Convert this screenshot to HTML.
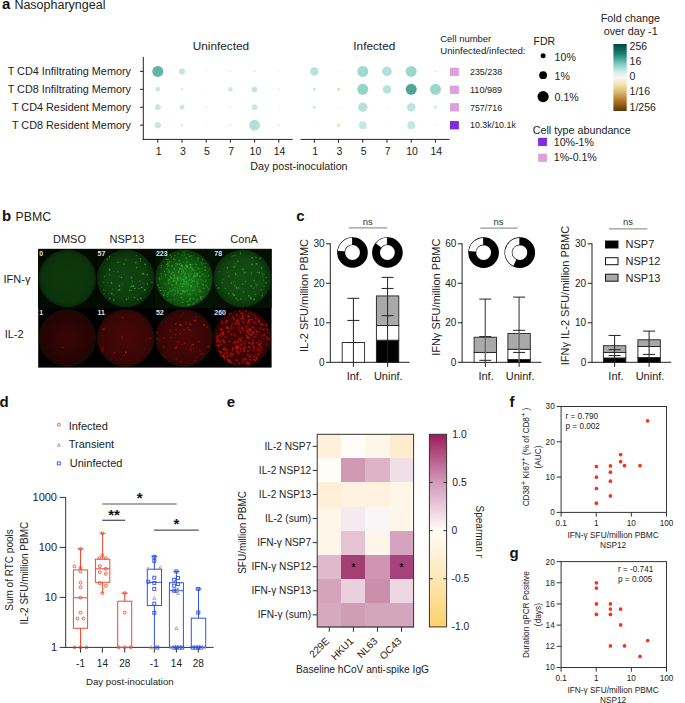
<!DOCTYPE html>
<html><head><meta charset="utf-8"><style>
html,body{margin:0;padding:0;background:#fff;}
svg{display:block;font-family:"Liberation Sans", sans-serif;}
</style></head><body>
<svg width="685" height="703" viewBox="0 0 685 703">
<rect width="685" height="703" fill="#fff"/>
<text x="1.90" y="9.30" font-size="15" text-anchor="start" font-weight="bold" fill="#111" >a</text>
<text x="14.40" y="9.40" font-size="12.5" text-anchor="start" fill="#222" >Nasopharyngeal</text>
<text x="220.90" y="49.60" font-size="11.8" text-anchor="middle" fill="#222" >Uninfected</text>
<text x="374.30" y="50.00" font-size="11.8" text-anchor="middle" fill="#222" >Infected</text>
<text x="131.00" y="75.20" font-size="10.85" text-anchor="end" fill="#222" >T CD4 Infiltrating Memory</text>
<line x1="140.00" y1="71.40" x2="143.30" y2="71.40" stroke="#222" stroke-width="1" />
<text x="131.00" y="93.15" font-size="10.85" text-anchor="end" fill="#222" >T CD8 Infiltrating Memory</text>
<line x1="140.00" y1="89.35" x2="143.30" y2="89.35" stroke="#222" stroke-width="1" />
<text x="131.00" y="111.05" font-size="10.85" text-anchor="end" fill="#222" >T CD4 Resident Memory</text>
<line x1="140.00" y1="107.25" x2="143.30" y2="107.25" stroke="#222" stroke-width="1" />
<text x="131.00" y="128.95" font-size="10.85" text-anchor="end" fill="#222" >T CD8 Resident Memory</text>
<line x1="140.00" y1="125.15" x2="143.30" y2="125.15" stroke="#222" stroke-width="1" />
<line x1="143.30" y1="57.00" x2="143.30" y2="139.90" stroke="#222" stroke-width="1" />
<line x1="142.80" y1="139.40" x2="292.70" y2="139.40" stroke="#222" stroke-width="1" />
<line x1="300.50" y1="139.40" x2="449.50" y2="139.40" stroke="#222" stroke-width="1" />
<line x1="157.80" y1="139.40" x2="157.80" y2="142.70" stroke="#222" stroke-width="1" />
<text x="158.60" y="155.00" font-size="10.5" text-anchor="middle" fill="#222" >1</text>
<line x1="182.00" y1="139.40" x2="182.00" y2="142.70" stroke="#222" stroke-width="1" />
<text x="182.80" y="155.00" font-size="10.5" text-anchor="middle" fill="#222" >3</text>
<line x1="206.20" y1="139.40" x2="206.20" y2="142.70" stroke="#222" stroke-width="1" />
<text x="207.00" y="155.00" font-size="10.5" text-anchor="middle" fill="#222" >5</text>
<line x1="230.40" y1="139.40" x2="230.40" y2="142.70" stroke="#222" stroke-width="1" />
<text x="231.20" y="155.00" font-size="10.5" text-anchor="middle" fill="#222" >7</text>
<line x1="254.60" y1="139.40" x2="254.60" y2="142.70" stroke="#222" stroke-width="1" />
<text x="255.40" y="155.00" font-size="10.5" text-anchor="middle" fill="#222" >10</text>
<line x1="278.80" y1="139.40" x2="278.80" y2="142.70" stroke="#222" stroke-width="1" />
<text x="279.60" y="155.00" font-size="10.5" text-anchor="middle" fill="#222" >14</text>
<line x1="314.30" y1="139.40" x2="314.30" y2="142.70" stroke="#222" stroke-width="1" />
<text x="315.10" y="155.00" font-size="10.5" text-anchor="middle" fill="#222" >1</text>
<line x1="338.53" y1="139.40" x2="338.53" y2="142.70" stroke="#222" stroke-width="1" />
<text x="339.33" y="155.00" font-size="10.5" text-anchor="middle" fill="#222" >3</text>
<line x1="362.76" y1="139.40" x2="362.76" y2="142.70" stroke="#222" stroke-width="1" />
<text x="363.56" y="155.00" font-size="10.5" text-anchor="middle" fill="#222" >5</text>
<line x1="386.99" y1="139.40" x2="386.99" y2="142.70" stroke="#222" stroke-width="1" />
<text x="387.79" y="155.00" font-size="10.5" text-anchor="middle" fill="#222" >7</text>
<line x1="411.22" y1="139.40" x2="411.22" y2="142.70" stroke="#222" stroke-width="1" />
<text x="412.02" y="155.00" font-size="10.5" text-anchor="middle" fill="#222" >10</text>
<line x1="435.45" y1="139.40" x2="435.45" y2="142.70" stroke="#222" stroke-width="1" />
<text x="436.25" y="155.00" font-size="10.5" text-anchor="middle" fill="#222" >14</text>
<text x="250.20" y="170.30" font-size="10.75" text-anchor="start" fill="#222" >Day post-inoculation</text>
<circle cx="157.80" cy="71.40" r="5.50" fill="#62b4a7" stroke="none" stroke-width="1" />
<circle cx="182.00" cy="71.40" r="3.00" fill="#c0e6df" stroke="none" stroke-width="1" />
<circle cx="206.20" cy="71.40" r="0.50" fill="#c5e8e1" stroke="none" stroke-width="1" />
<circle cx="230.40" cy="71.40" r="0.90" fill="#c5e8e1" stroke="none" stroke-width="1" />
<circle cx="254.60" cy="71.40" r="0.90" fill="#c5e8e1" stroke="none" stroke-width="1" />
<circle cx="278.80" cy="71.40" r="0.50" fill="#c5e8e1" stroke="none" stroke-width="1" />
<circle cx="157.80" cy="89.35" r="2.30" fill="#c6e8e2" stroke="none" stroke-width="1" />
<circle cx="182.00" cy="89.35" r="1.00" fill="#c5e8e1" stroke="none" stroke-width="1" />
<circle cx="206.20" cy="89.35" r="0.70" fill="#c5e8e1" stroke="none" stroke-width="1" />
<circle cx="230.40" cy="89.35" r="2.30" fill="#c6e8e2" stroke="none" stroke-width="1" />
<circle cx="254.60" cy="89.35" r="2.90" fill="#c0e6df" stroke="none" stroke-width="1" />
<circle cx="278.80" cy="89.35" r="0.80" fill="#c5e8e1" stroke="none" stroke-width="1" />
<circle cx="157.80" cy="107.25" r="2.90" fill="#c4e7e1" stroke="none" stroke-width="1" />
<circle cx="182.00" cy="107.25" r="2.40" fill="#c6e8e2" stroke="none" stroke-width="1" />
<circle cx="206.20" cy="107.25" r="0.80" fill="#c5e8e1" stroke="none" stroke-width="1" />
<circle cx="230.40" cy="107.25" r="0.80" fill="#c5e8e1" stroke="none" stroke-width="1" />
<circle cx="254.60" cy="107.25" r="2.90" fill="#c6e8e2" stroke="none" stroke-width="1" />
<circle cx="278.80" cy="107.25" r="0.60" fill="#c5e8e1" stroke="none" stroke-width="1" />
<circle cx="157.80" cy="125.15" r="3.10" fill="#c6e8e2" stroke="none" stroke-width="1" />
<circle cx="182.00" cy="125.15" r="1.00" fill="#c5e8e1" stroke="none" stroke-width="1" />
<circle cx="206.20" cy="125.15" r="0.50" fill="#c5e8e1" stroke="none" stroke-width="1" />
<circle cx="230.40" cy="125.15" r="0.90" fill="#c5e8e1" stroke="none" stroke-width="1" />
<circle cx="254.60" cy="125.15" r="5.40" fill="#b3e0d9" stroke="none" stroke-width="1" />
<circle cx="278.80" cy="125.15" r="0.80" fill="#c5e8e1" stroke="none" stroke-width="1" />
<circle cx="314.30" cy="71.40" r="4.10" fill="#b6e2da" stroke="none" stroke-width="1" />
<circle cx="338.53" cy="71.40" r="0.50" fill="#c5e8e1" stroke="none" stroke-width="1" />
<circle cx="362.76" cy="71.40" r="5.50" fill="#a0d9cf" stroke="none" stroke-width="1" />
<circle cx="386.99" cy="71.40" r="4.85" fill="#b3e0d8" stroke="none" stroke-width="1" />
<circle cx="411.22" cy="71.40" r="5.50" fill="#9dd7cc" stroke="none" stroke-width="1" />
<circle cx="435.45" cy="71.40" r="0.80" fill="#c5e8e1" stroke="none" stroke-width="1" />
<circle cx="314.30" cy="89.35" r="1.50" fill="#c8e9e3" stroke="none" stroke-width="1" />
<circle cx="338.53" cy="89.35" r="1.80" fill="#f3dfba" stroke="none" stroke-width="1" />
<circle cx="362.76" cy="89.35" r="5.50" fill="#96d3c8" stroke="none" stroke-width="1" />
<circle cx="386.99" cy="89.35" r="4.30" fill="#b8e3db" stroke="none" stroke-width="1" />
<circle cx="411.22" cy="89.35" r="5.50" fill="#4ea597" stroke="none" stroke-width="1" />
<circle cx="435.45" cy="89.35" r="5.50" fill="#9dd7cc" stroke="none" stroke-width="1" />
<circle cx="314.30" cy="107.25" r="1.50" fill="#c8e9e3" stroke="none" stroke-width="1" />
<circle cx="338.53" cy="107.25" r="0.60" fill="#c5e8e1" stroke="none" stroke-width="1" />
<circle cx="362.76" cy="107.25" r="4.70" fill="#b5e2da" stroke="none" stroke-width="1" />
<circle cx="386.99" cy="107.25" r="0.60" fill="#c5e8e1" stroke="none" stroke-width="1" />
<circle cx="411.22" cy="107.25" r="4.30" fill="#bde5de" stroke="none" stroke-width="1" />
<circle cx="435.45" cy="107.25" r="1.40" fill="#c5e8e1" stroke="none" stroke-width="1" />
<circle cx="314.30" cy="125.15" r="0.50" fill="#c5e8e1" stroke="none" stroke-width="1" />
<circle cx="338.53" cy="125.15" r="1.60" fill="#f3dfba" stroke="none" stroke-width="1" />
<circle cx="362.76" cy="125.15" r="3.90" fill="#c1e8e1" stroke="none" stroke-width="1" />
<circle cx="386.99" cy="125.15" r="0.50" fill="#c5e8e1" stroke="none" stroke-width="1" />
<circle cx="411.22" cy="125.15" r="3.90" fill="#c2e8e1" stroke="none" stroke-width="1" />
<circle cx="435.45" cy="125.15" r="0.60" fill="#c5e8e1" stroke="none" stroke-width="1" />
<text x="440.20" y="41.70" font-size="8.7" text-anchor="start" fill="#222" textLength="51.1" lengthAdjust="spacingAndGlyphs">Cell number</text>
<text x="440.20" y="54.00" font-size="8.7" text-anchor="start" fill="#222" textLength="85.3" lengthAdjust="spacingAndGlyphs">Uninfected/infected:</text>
<rect x="450.00" y="67.75" width="8.90" height="8.30" fill="#dda0dc" stroke="none" stroke-width="1" />
<text x="470.00" y="75.10" font-size="8.2" text-anchor="start" fill="#222" textLength="32.1" lengthAdjust="spacingAndGlyphs">235/238</text>
<rect x="450.00" y="85.65" width="8.90" height="8.30" fill="#dda0dc" stroke="none" stroke-width="1" />
<text x="470.00" y="93.00" font-size="8.2" text-anchor="start" fill="#222" textLength="32.1" lengthAdjust="spacingAndGlyphs">110/989</text>
<rect x="450.00" y="103.15" width="8.90" height="8.30" fill="#dda0dc" stroke="none" stroke-width="1" />
<text x="470.00" y="110.50" font-size="8.2" text-anchor="start" fill="#222" textLength="32.1" lengthAdjust="spacingAndGlyphs">757/716</text>
<rect x="450.00" y="121.05" width="8.90" height="8.30" fill="#7f2be0" stroke="none" stroke-width="1" />
<text x="470.00" y="128.40" font-size="8.2" text-anchor="start" fill="#222" textLength="45.9" lengthAdjust="spacingAndGlyphs">10.3k/10.1k</text>
<text x="533.60" y="44.80" font-size="10.5" text-anchor="start" fill="#222" >FDR</text>
<circle cx="543.10" cy="55.80" r="2.50" fill="#000" stroke="none" stroke-width="1" />
<text x="554.60" y="60.60" font-size="10.6" text-anchor="start" fill="#222" >10%</text>
<circle cx="543.10" cy="75.20" r="3.90" fill="#000" stroke="none" stroke-width="1" />
<text x="554.60" y="80.00" font-size="10.6" text-anchor="start" fill="#222" >1%</text>
<circle cx="543.10" cy="96.60" r="5.60" fill="#000" stroke="none" stroke-width="1" />
<text x="554.60" y="101.40" font-size="10.6" text-anchor="start" fill="#222" >0.1%</text>
<text x="630.40" y="22.20" font-size="10.8" text-anchor="middle" fill="#222" >Fold change</text>
<text x="630.70" y="35.00" font-size="10.8" text-anchor="middle" fill="#222" >over day -1</text>
<defs><linearGradient id="brbg" x1="0" y1="0" x2="0" y2="1"><stop offset="0" stop-color="#01463d"/><stop offset="0.15" stop-color="#1f7f74"/><stop offset="0.3" stop-color="#7fcbbf"/><stop offset="0.42" stop-color="#d5efeb"/><stop offset="0.5" stop-color="#f5f5f5"/><stop offset="0.58" stop-color="#f6e8c3"/><stop offset="0.7" stop-color="#dfc27d"/><stop offset="0.85" stop-color="#b27424"/><stop offset="1" stop-color="#5e3507"/></linearGradient></defs>
<rect x="613.40" y="44.00" width="13.30" height="67.00" fill="url(#brbg)" stroke="none" stroke-width="1" />
<text x="629.60" y="49.80" font-size="10.5" text-anchor="start" fill="#222" >256</text>
<text x="629.60" y="64.50" font-size="10.5" text-anchor="start" fill="#222" >16</text>
<text x="629.60" y="79.80" font-size="10.5" text-anchor="start" fill="#222" >0</text>
<text x="629.60" y="95.20" font-size="10.5" text-anchor="start" fill="#222" >1/16</text>
<text x="629.60" y="110.50" font-size="10.5" text-anchor="start" fill="#222" >1/256</text>
<text x="532.70" y="133.80" font-size="10.75" text-anchor="start" fill="#222" >Cell type abundance</text>
<rect x="538.10" y="137.80" width="8.80" height="8.20" fill="#7f2be0" stroke="none" stroke-width="1" />
<rect x="538.10" y="153.70" width="8.80" height="8.20" fill="#dda0dc" stroke="none" stroke-width="1" />
<text x="553.80" y="145.70" font-size="10.6" text-anchor="start" fill="#222" >10%-1%</text>
<text x="553.80" y="161.20" font-size="10.6" text-anchor="start" fill="#222" >1%-0.1%</text>
<text x="1.90" y="220.90" font-size="15" text-anchor="start" font-weight="bold" fill="#111" >b</text>
<text x="15.60" y="220.90" font-size="12.3" text-anchor="start" fill="#222" >PBMC</text>
<text x="69.50" y="243.40" font-size="11" text-anchor="middle" fill="#222" >DMSO</text>
<text x="126.90" y="243.40" font-size="11" text-anchor="middle" fill="#222" >NSP13</text>
<text x="185.50" y="243.40" font-size="11" text-anchor="middle" fill="#222" >FEC</text>
<text x="244.10" y="243.40" font-size="11" text-anchor="middle" fill="#222" >ConA</text>
<text x="3.50" y="283.40" font-size="11" text-anchor="start" fill="#222" >IFN-γ</text>
<text x="4.70" y="338.20" font-size="11" text-anchor="start" fill="#222" >IL-2</text>
<rect x="38.20" y="248.90" width="233.40" height="118.70" fill="#000" stroke="none" stroke-width="1" />
<defs><radialGradient id="g0" cx="0.5" cy="0.5" r="0.5"><stop offset="0" stop-color="#0d380d"/><stop offset="0.85" stop-color="#0c340c"/><stop offset="1" stop-color="#082608"/></radialGradient><radialGradient id="g1" cx="0.5" cy="0.5" r="0.5"><stop offset="0" stop-color="#114411"/><stop offset="0.7" stop-color="#0f3e0f"/><stop offset="1" stop-color="#092a09"/></radialGradient><radialGradient id="g2" cx="0.52" cy="0.55" r="0.5"><stop offset="0" stop-color="#1a7a1a"/><stop offset="0.5" stop-color="#146414"/><stop offset="0.85" stop-color="#0f4c0f"/><stop offset="1" stop-color="#0b380b"/></radialGradient><radialGradient id="g3" cx="0.5" cy="0.5" r="0.5"><stop offset="0" stop-color="#134e13"/><stop offset="0.7" stop-color="#114611"/><stop offset="1" stop-color="#0a300a"/></radialGradient><radialGradient id="r0" cx="0.5" cy="0.5" r="0.5"><stop offset="0" stop-color="#3a0505"/><stop offset="0.8" stop-color="#260404"/><stop offset="1" stop-color="#1a0a03"/></radialGradient><radialGradient id="r1" cx="0.5" cy="0.5" r="0.5"><stop offset="0" stop-color="#480707"/><stop offset="0.8" stop-color="#3a0606"/><stop offset="1" stop-color="#260a04"/></radialGradient><radialGradient id="r2" cx="0.5" cy="0.5" r="0.5"><stop offset="0" stop-color="#4a0707"/><stop offset="0.8" stop-color="#3a0606"/><stop offset="1" stop-color="#260a04"/></radialGradient><radialGradient id="r3" cx="0.5" cy="0.5" r="0.5"><stop offset="0" stop-color="#420404"/><stop offset="0.8" stop-color="#380303"/><stop offset="1" stop-color="#280303"/></radialGradient></defs>
<rect x="38.20" y="248.90" width="58.35" height="59.35" fill="#020a02" stroke="none" stroke-width="1" />
<circle cx="67.38" cy="278.57" r="28.70" fill="url(#g0)" stroke="none" stroke-width="1" />
<circle cx="67.38" cy="337.93" r="28.70" fill="url(#r0)" stroke="none" stroke-width="1" />
<circle cx="62.64" cy="347.40" r="0.86" fill="#d01212" stroke="none" stroke-width="1" opacity="0.48"/>
<text x="39.20" y="255.90" font-size="7" text-anchor="start" fill="#e0e0e0" font-weight="bold">0</text>
<text x="39.20" y="315.25" font-size="7" text-anchor="start" fill="#e0e0e0" font-weight="bold">1</text>
<rect x="96.55" y="248.90" width="58.35" height="59.35" fill="#020c02" stroke="none" stroke-width="1" />
<circle cx="125.73" cy="278.57" r="28.70" fill="url(#g1)" stroke="none" stroke-width="1" />
<circle cx="109.65" cy="274.89" r="0.52" fill="#3cc03c" stroke="none" stroke-width="1" opacity="0.65"/>
<circle cx="143.18" cy="282.77" r="0.53" fill="#3cc03c" stroke="none" stroke-width="1" opacity="0.49"/>
<circle cx="103.67" cy="289.90" r="0.55" fill="#3cc03c" stroke="none" stroke-width="1" opacity="0.54"/>
<circle cx="107.25" cy="259.52" r="0.73" fill="#3cc03c" stroke="none" stroke-width="1" opacity="0.61"/>
<circle cx="131.54" cy="277.70" r="0.84" fill="#3cc03c" stroke="none" stroke-width="1" opacity="0.57"/>
<circle cx="131.49" cy="285.94" r="0.62" fill="#3cc03c" stroke="none" stroke-width="1" opacity="0.78"/>
<circle cx="134.49" cy="297.43" r="0.76" fill="#3cc03c" stroke="none" stroke-width="1" opacity="0.60"/>
<circle cx="119.20" cy="276.56" r="0.52" fill="#3cc03c" stroke="none" stroke-width="1" opacity="0.53"/>
<circle cx="118.17" cy="262.42" r="0.63" fill="#3cc03c" stroke="none" stroke-width="1" opacity="0.68"/>
<circle cx="111.44" cy="282.90" r="0.82" fill="#3cc03c" stroke="none" stroke-width="1" opacity="0.73"/>
<circle cx="126.49" cy="299.23" r="0.71" fill="#3cc03c" stroke="none" stroke-width="1" opacity="0.80"/>
<circle cx="123.84" cy="264.07" r="0.89" fill="#3cc03c" stroke="none" stroke-width="1" opacity="0.50"/>
<circle cx="105.07" cy="290.25" r="0.56" fill="#3cc03c" stroke="none" stroke-width="1" opacity="0.65"/>
<circle cx="147.34" cy="284.01" r="0.81" fill="#3cc03c" stroke="none" stroke-width="1" opacity="0.68"/>
<circle cx="136.56" cy="267.81" r="0.78" fill="#3cc03c" stroke="none" stroke-width="1" opacity="0.69"/>
<circle cx="109.58" cy="269.71" r="0.84" fill="#3cc03c" stroke="none" stroke-width="1" opacity="0.83"/>
<circle cx="103.80" cy="282.18" r="0.52" fill="#3cc03c" stroke="none" stroke-width="1" opacity="0.73"/>
<circle cx="109.36" cy="256.89" r="0.83" fill="#3cc03c" stroke="none" stroke-width="1" opacity="0.56"/>
<circle cx="108.93" cy="293.24" r="0.51" fill="#3cc03c" stroke="none" stroke-width="1" opacity="0.63"/>
<circle cx="130.32" cy="286.70" r="0.52" fill="#3cc03c" stroke="none" stroke-width="1" opacity="0.76"/>
<circle cx="135.05" cy="288.43" r="0.66" fill="#3cc03c" stroke="none" stroke-width="1" opacity="0.80"/>
<circle cx="141.71" cy="287.44" r="0.72" fill="#3cc03c" stroke="none" stroke-width="1" opacity="0.80"/>
<circle cx="136.41" cy="255.60" r="0.61" fill="#3cc03c" stroke="none" stroke-width="1" opacity="0.62"/>
<circle cx="109.54" cy="298.45" r="0.88" fill="#3cc03c" stroke="none" stroke-width="1" opacity="0.51"/>
<circle cx="131.60" cy="290.32" r="0.59" fill="#3cc03c" stroke="none" stroke-width="1" opacity="0.64"/>
<circle cx="113.88" cy="271.15" r="0.50" fill="#3cc03c" stroke="none" stroke-width="1" opacity="0.62"/>
<circle cx="111.75" cy="293.60" r="0.88" fill="#3cc03c" stroke="none" stroke-width="1" opacity="0.73"/>
<circle cx="104.40" cy="276.49" r="0.77" fill="#3cc03c" stroke="none" stroke-width="1" opacity="0.47"/>
<circle cx="145.16" cy="264.36" r="0.85" fill="#3cc03c" stroke="none" stroke-width="1" opacity="0.77"/>
<circle cx="112.29" cy="289.35" r="0.54" fill="#3cc03c" stroke="none" stroke-width="1" opacity="0.70"/>
<circle cx="132.27" cy="281.27" r="0.58" fill="#3cc03c" stroke="none" stroke-width="1" opacity="0.51"/>
<circle cx="122.37" cy="283.85" r="0.50" fill="#3cc03c" stroke="none" stroke-width="1" opacity="0.51"/>
<circle cx="138.94" cy="288.36" r="0.51" fill="#3cc03c" stroke="none" stroke-width="1" opacity="0.80"/>
<circle cx="117.80" cy="271.67" r="0.60" fill="#3cc03c" stroke="none" stroke-width="1" opacity="0.59"/>
<circle cx="119.44" cy="285.78" r="0.84" fill="#3cc03c" stroke="none" stroke-width="1" opacity="0.85"/>
<circle cx="107.19" cy="282.60" r="0.53" fill="#3cc03c" stroke="none" stroke-width="1" opacity="0.49"/>
<circle cx="118.01" cy="290.29" r="0.83" fill="#3cc03c" stroke="none" stroke-width="1" opacity="0.51"/>
<circle cx="152.03" cy="282.42" r="0.71" fill="#3cc03c" stroke="none" stroke-width="1" opacity="0.51"/>
<circle cx="121.41" cy="277.37" r="0.71" fill="#3cc03c" stroke="none" stroke-width="1" opacity="0.84"/>
<circle cx="140.59" cy="261.35" r="0.60" fill="#3cc03c" stroke="none" stroke-width="1" opacity="0.60"/>
<circle cx="137.65" cy="299.35" r="0.71" fill="#3cc03c" stroke="none" stroke-width="1" opacity="0.76"/>
<circle cx="119.55" cy="289.87" r="0.82" fill="#3cc03c" stroke="none" stroke-width="1" opacity="0.84"/>
<circle cx="140.44" cy="259.01" r="0.83" fill="#3cc03c" stroke="none" stroke-width="1" opacity="0.75"/>
<circle cx="128.58" cy="297.98" r="0.64" fill="#3cc03c" stroke="none" stroke-width="1" opacity="0.46"/>
<circle cx="139.92" cy="281.09" r="0.60" fill="#3cc03c" stroke="none" stroke-width="1" opacity="0.73"/>
<circle cx="143.28" cy="273.65" r="0.87" fill="#3cc03c" stroke="none" stroke-width="1" opacity="0.85"/>
<circle cx="141.54" cy="273.98" r="0.59" fill="#3cc03c" stroke="none" stroke-width="1" opacity="0.54"/>
<circle cx="129.78" cy="290.22" r="0.75" fill="#3cc03c" stroke="none" stroke-width="1" opacity="0.81"/>
<circle cx="135.88" cy="262.66" r="0.76" fill="#3cc03c" stroke="none" stroke-width="1" opacity="0.77"/>
<circle cx="144.81" cy="289.83" r="0.86" fill="#3cc03c" stroke="none" stroke-width="1" opacity="0.76"/>
<circle cx="125.74" cy="259.72" r="0.57" fill="#3cc03c" stroke="none" stroke-width="1" opacity="0.77"/>
<circle cx="113.63" cy="299.77" r="0.89" fill="#3cc03c" stroke="none" stroke-width="1" opacity="0.61"/>
<circle cx="104.13" cy="293.98" r="0.79" fill="#3cc03c" stroke="none" stroke-width="1" opacity="0.52"/>
<circle cx="133.12" cy="286.17" r="0.86" fill="#3cc03c" stroke="none" stroke-width="1" opacity="0.77"/>
<circle cx="140.77" cy="298.27" r="0.89" fill="#3cc03c" stroke="none" stroke-width="1" opacity="0.71"/>
<circle cx="113.81" cy="294.88" r="0.55" fill="#3cc03c" stroke="none" stroke-width="1" opacity="0.46"/>
<circle cx="147.33" cy="274.58" r="0.71" fill="#3cc03c" stroke="none" stroke-width="1" opacity="0.82"/>
<circle cx="125.73" cy="337.93" r="28.70" fill="url(#r1)" stroke="none" stroke-width="1" />
<circle cx="102.44" cy="348.21" r="0.93" fill="#d01212" stroke="none" stroke-width="1" opacity="0.54"/>
<circle cx="125.55" cy="352.68" r="0.70" fill="#d01212" stroke="none" stroke-width="1" opacity="0.71"/>
<circle cx="124.69" cy="355.54" r="0.65" fill="#d01212" stroke="none" stroke-width="1" opacity="0.86"/>
<circle cx="114.53" cy="352.59" r="0.83" fill="#d01212" stroke="none" stroke-width="1" opacity="0.86"/>
<circle cx="102.79" cy="350.42" r="0.80" fill="#d01212" stroke="none" stroke-width="1" opacity="0.69"/>
<circle cx="122.04" cy="337.38" r="0.78" fill="#d01212" stroke="none" stroke-width="1" opacity="0.53"/>
<circle cx="150.09" cy="338.53" r="0.67" fill="#d01212" stroke="none" stroke-width="1" opacity="0.66"/>
<circle cx="122.57" cy="317.83" r="0.73" fill="#d01212" stroke="none" stroke-width="1" opacity="0.68"/>
<circle cx="103.03" cy="329.68" r="0.64" fill="#d01212" stroke="none" stroke-width="1" opacity="0.70"/>
<circle cx="125.86" cy="352.27" r="0.91" fill="#d01212" stroke="none" stroke-width="1" opacity="0.68"/>
<circle cx="103.72" cy="328.94" r="0.96" fill="#d01212" stroke="none" stroke-width="1" opacity="0.65"/>
<text x="97.55" y="255.90" font-size="7" text-anchor="start" fill="#e0e0e0" font-weight="bold">57</text>
<text x="97.55" y="315.25" font-size="7" text-anchor="start" fill="#e0e0e0" font-weight="bold">11</text>
<rect x="154.90" y="248.90" width="58.35" height="59.35" fill="#041204" stroke="none" stroke-width="1" />
<circle cx="184.08" cy="278.57" r="28.70" fill="url(#g2)" stroke="none" stroke-width="1" />
<circle cx="169.34" cy="265.98" r="0.74" fill="#40b840" stroke="none" stroke-width="1" opacity="0.48"/>
<circle cx="165.63" cy="274.66" r="0.74" fill="#40b840" stroke="none" stroke-width="1" opacity="0.65"/>
<circle cx="197.06" cy="273.64" r="0.83" fill="#40b840" stroke="none" stroke-width="1" opacity="0.64"/>
<circle cx="190.27" cy="285.79" r="0.53" fill="#40b840" stroke="none" stroke-width="1" opacity="0.40"/>
<circle cx="204.07" cy="288.47" r="0.81" fill="#40b840" stroke="none" stroke-width="1" opacity="0.36"/>
<circle cx="181.27" cy="265.58" r="0.81" fill="#40b840" stroke="none" stroke-width="1" opacity="0.69"/>
<circle cx="189.13" cy="304.70" r="0.67" fill="#40b840" stroke="none" stroke-width="1" opacity="0.70"/>
<circle cx="189.50" cy="269.06" r="0.68" fill="#40b840" stroke="none" stroke-width="1" opacity="0.44"/>
<circle cx="189.22" cy="293.08" r="0.51" fill="#40b840" stroke="none" stroke-width="1" opacity="0.52"/>
<circle cx="182.03" cy="279.38" r="0.72" fill="#40b840" stroke="none" stroke-width="1" opacity="0.50"/>
<circle cx="208.96" cy="289.21" r="0.84" fill="#40b840" stroke="none" stroke-width="1" opacity="0.34"/>
<circle cx="183.55" cy="283.97" r="0.59" fill="#40b840" stroke="none" stroke-width="1" opacity="0.35"/>
<circle cx="161.09" cy="290.79" r="0.59" fill="#40b840" stroke="none" stroke-width="1" opacity="0.36"/>
<circle cx="202.07" cy="268.56" r="0.53" fill="#40b840" stroke="none" stroke-width="1" opacity="0.32"/>
<circle cx="180.04" cy="268.70" r="0.83" fill="#40b840" stroke="none" stroke-width="1" opacity="0.55"/>
<circle cx="186.59" cy="271.10" r="0.52" fill="#40b840" stroke="none" stroke-width="1" opacity="0.65"/>
<circle cx="168.86" cy="283.12" r="0.82" fill="#40b840" stroke="none" stroke-width="1" opacity="0.41"/>
<circle cx="192.25" cy="287.19" r="0.54" fill="#40b840" stroke="none" stroke-width="1" opacity="0.36"/>
<circle cx="191.06" cy="280.86" r="0.61" fill="#40b840" stroke="none" stroke-width="1" opacity="0.60"/>
<circle cx="181.20" cy="289.78" r="0.62" fill="#40b840" stroke="none" stroke-width="1" opacity="0.31"/>
<circle cx="184.07" cy="281.95" r="0.69" fill="#40b840" stroke="none" stroke-width="1" opacity="0.38"/>
<circle cx="168.46" cy="281.07" r="0.79" fill="#40b840" stroke="none" stroke-width="1" opacity="0.47"/>
<circle cx="159.18" cy="279.36" r="0.68" fill="#40b840" stroke="none" stroke-width="1" opacity="0.58"/>
<circle cx="199.94" cy="276.82" r="0.75" fill="#40b840" stroke="none" stroke-width="1" opacity="0.55"/>
<circle cx="176.11" cy="284.01" r="0.55" fill="#40b840" stroke="none" stroke-width="1" opacity="0.33"/>
<circle cx="183.60" cy="270.32" r="0.53" fill="#40b840" stroke="none" stroke-width="1" opacity="0.64"/>
<circle cx="193.28" cy="268.84" r="0.58" fill="#40b840" stroke="none" stroke-width="1" opacity="0.42"/>
<circle cx="173.60" cy="281.30" r="0.59" fill="#40b840" stroke="none" stroke-width="1" opacity="0.68"/>
<circle cx="196.00" cy="276.50" r="0.84" fill="#40b840" stroke="none" stroke-width="1" opacity="0.42"/>
<circle cx="183.52" cy="279.27" r="0.67" fill="#40b840" stroke="none" stroke-width="1" opacity="0.50"/>
<circle cx="187.60" cy="289.65" r="0.59" fill="#40b840" stroke="none" stroke-width="1" opacity="0.34"/>
<circle cx="181.38" cy="280.55" r="0.61" fill="#40b840" stroke="none" stroke-width="1" opacity="0.39"/>
<circle cx="167.04" cy="268.42" r="0.73" fill="#40b840" stroke="none" stroke-width="1" opacity="0.59"/>
<circle cx="191.48" cy="271.54" r="0.84" fill="#40b840" stroke="none" stroke-width="1" opacity="0.36"/>
<circle cx="181.95" cy="265.63" r="0.79" fill="#40b840" stroke="none" stroke-width="1" opacity="0.66"/>
<circle cx="167.80" cy="261.82" r="0.55" fill="#40b840" stroke="none" stroke-width="1" opacity="0.51"/>
<circle cx="159.17" cy="277.89" r="0.79" fill="#40b840" stroke="none" stroke-width="1" opacity="0.53"/>
<circle cx="201.69" cy="264.52" r="0.58" fill="#40b840" stroke="none" stroke-width="1" opacity="0.31"/>
<circle cx="190.66" cy="285.87" r="0.79" fill="#40b840" stroke="none" stroke-width="1" opacity="0.52"/>
<circle cx="169.09" cy="263.06" r="0.67" fill="#40b840" stroke="none" stroke-width="1" opacity="0.30"/>
<circle cx="191.04" cy="256.04" r="0.69" fill="#40b840" stroke="none" stroke-width="1" opacity="0.56"/>
<circle cx="196.93" cy="284.24" r="0.53" fill="#40b840" stroke="none" stroke-width="1" opacity="0.41"/>
<circle cx="182.48" cy="266.33" r="0.84" fill="#40b840" stroke="none" stroke-width="1" opacity="0.50"/>
<circle cx="170.11" cy="291.27" r="0.77" fill="#40b840" stroke="none" stroke-width="1" opacity="0.55"/>
<circle cx="181.23" cy="275.02" r="0.59" fill="#40b840" stroke="none" stroke-width="1" opacity="0.60"/>
<circle cx="179.94" cy="290.19" r="0.52" fill="#40b840" stroke="none" stroke-width="1" opacity="0.41"/>
<circle cx="173.40" cy="258.56" r="0.60" fill="#40b840" stroke="none" stroke-width="1" opacity="0.51"/>
<circle cx="173.18" cy="281.04" r="0.81" fill="#40b840" stroke="none" stroke-width="1" opacity="0.38"/>
<circle cx="199.75" cy="276.41" r="0.66" fill="#40b840" stroke="none" stroke-width="1" opacity="0.63"/>
<circle cx="194.82" cy="276.39" r="0.57" fill="#40b840" stroke="none" stroke-width="1" opacity="0.68"/>
<circle cx="187.12" cy="290.67" r="0.68" fill="#40b840" stroke="none" stroke-width="1" opacity="0.68"/>
<circle cx="200.68" cy="296.85" r="0.81" fill="#40b840" stroke="none" stroke-width="1" opacity="0.58"/>
<circle cx="187.09" cy="304.23" r="0.51" fill="#40b840" stroke="none" stroke-width="1" opacity="0.30"/>
<circle cx="173.11" cy="279.15" r="0.55" fill="#40b840" stroke="none" stroke-width="1" opacity="0.44"/>
<circle cx="178.03" cy="292.30" r="0.76" fill="#40b840" stroke="none" stroke-width="1" opacity="0.64"/>
<circle cx="203.20" cy="296.54" r="0.82" fill="#40b840" stroke="none" stroke-width="1" opacity="0.42"/>
<circle cx="172.20" cy="290.87" r="0.71" fill="#40b840" stroke="none" stroke-width="1" opacity="0.44"/>
<circle cx="176.36" cy="282.32" r="0.54" fill="#40b840" stroke="none" stroke-width="1" opacity="0.63"/>
<circle cx="180.56" cy="294.00" r="0.59" fill="#40b840" stroke="none" stroke-width="1" opacity="0.50"/>
<circle cx="190.22" cy="294.06" r="0.81" fill="#40b840" stroke="none" stroke-width="1" opacity="0.62"/>
<circle cx="166.34" cy="259.48" r="0.69" fill="#40b840" stroke="none" stroke-width="1" opacity="0.59"/>
<circle cx="206.29" cy="285.71" r="0.76" fill="#40b840" stroke="none" stroke-width="1" opacity="0.56"/>
<circle cx="182.71" cy="284.45" r="0.54" fill="#40b840" stroke="none" stroke-width="1" opacity="0.49"/>
<circle cx="175.82" cy="290.95" r="0.84" fill="#40b840" stroke="none" stroke-width="1" opacity="0.40"/>
<circle cx="175.75" cy="266.15" r="0.64" fill="#40b840" stroke="none" stroke-width="1" opacity="0.37"/>
<circle cx="190.63" cy="289.14" r="0.67" fill="#40b840" stroke="none" stroke-width="1" opacity="0.39"/>
<circle cx="206.71" cy="263.46" r="0.55" fill="#40b840" stroke="none" stroke-width="1" opacity="0.38"/>
<circle cx="192.13" cy="283.74" r="0.58" fill="#40b840" stroke="none" stroke-width="1" opacity="0.40"/>
<circle cx="160.81" cy="267.70" r="0.64" fill="#40b840" stroke="none" stroke-width="1" opacity="0.47"/>
<circle cx="174.15" cy="277.06" r="0.52" fill="#40b840" stroke="none" stroke-width="1" opacity="0.41"/>
<circle cx="193.55" cy="276.62" r="0.72" fill="#40b840" stroke="none" stroke-width="1" opacity="0.65"/>
<circle cx="185.88" cy="286.90" r="0.64" fill="#40b840" stroke="none" stroke-width="1" opacity="0.48"/>
<circle cx="208.15" cy="271.41" r="0.51" fill="#40b840" stroke="none" stroke-width="1" opacity="0.31"/>
<circle cx="177.58" cy="253.60" r="0.71" fill="#40b840" stroke="none" stroke-width="1" opacity="0.30"/>
<circle cx="163.69" cy="295.11" r="0.80" fill="#40b840" stroke="none" stroke-width="1" opacity="0.69"/>
<circle cx="184.13" cy="283.98" r="0.68" fill="#40b840" stroke="none" stroke-width="1" opacity="0.57"/>
<circle cx="205.69" cy="270.25" r="0.77" fill="#40b840" stroke="none" stroke-width="1" opacity="0.48"/>
<circle cx="178.93" cy="276.85" r="0.58" fill="#40b840" stroke="none" stroke-width="1" opacity="0.67"/>
<circle cx="178.57" cy="271.43" r="0.59" fill="#40b840" stroke="none" stroke-width="1" opacity="0.55"/>
<circle cx="182.34" cy="273.38" r="0.68" fill="#40b840" stroke="none" stroke-width="1" opacity="0.53"/>
<circle cx="174.24" cy="286.91" r="0.50" fill="#40b840" stroke="none" stroke-width="1" opacity="0.42"/>
<circle cx="158.19" cy="285.10" r="0.81" fill="#40b840" stroke="none" stroke-width="1" opacity="0.49"/>
<circle cx="185.37" cy="292.07" r="0.75" fill="#40b840" stroke="none" stroke-width="1" opacity="0.42"/>
<circle cx="203.14" cy="281.20" r="0.65" fill="#40b840" stroke="none" stroke-width="1" opacity="0.40"/>
<circle cx="176.27" cy="264.91" r="0.51" fill="#40b840" stroke="none" stroke-width="1" opacity="0.44"/>
<circle cx="172.21" cy="285.04" r="0.78" fill="#40b840" stroke="none" stroke-width="1" opacity="0.60"/>
<circle cx="171.73" cy="278.20" r="0.61" fill="#40b840" stroke="none" stroke-width="1" opacity="0.63"/>
<circle cx="185.62" cy="291.31" r="0.60" fill="#40b840" stroke="none" stroke-width="1" opacity="0.68"/>
<circle cx="177.00" cy="278.76" r="0.65" fill="#40b840" stroke="none" stroke-width="1" opacity="0.57"/>
<circle cx="193.97" cy="275.27" r="0.57" fill="#40b840" stroke="none" stroke-width="1" opacity="0.69"/>
<circle cx="186.41" cy="281.47" r="0.64" fill="#40b840" stroke="none" stroke-width="1" opacity="0.66"/>
<circle cx="201.44" cy="262.99" r="0.83" fill="#40b840" stroke="none" stroke-width="1" opacity="0.43"/>
<circle cx="194.47" cy="302.82" r="0.51" fill="#40b840" stroke="none" stroke-width="1" opacity="0.57"/>
<circle cx="176.84" cy="285.49" r="0.56" fill="#40b840" stroke="none" stroke-width="1" opacity="0.30"/>
<circle cx="181.07" cy="294.46" r="0.54" fill="#40b840" stroke="none" stroke-width="1" opacity="0.69"/>
<circle cx="188.38" cy="294.28" r="0.79" fill="#40b840" stroke="none" stroke-width="1" opacity="0.47"/>
<circle cx="201.94" cy="284.29" r="0.82" fill="#40b840" stroke="none" stroke-width="1" opacity="0.38"/>
<circle cx="173.88" cy="290.25" r="0.64" fill="#40b840" stroke="none" stroke-width="1" opacity="0.62"/>
<circle cx="184.42" cy="275.29" r="0.52" fill="#40b840" stroke="none" stroke-width="1" opacity="0.67"/>
<circle cx="183.04" cy="302.12" r="0.62" fill="#40b840" stroke="none" stroke-width="1" opacity="0.41"/>
<circle cx="196.47" cy="275.20" r="0.75" fill="#40b840" stroke="none" stroke-width="1" opacity="0.43"/>
<circle cx="183.81" cy="280.23" r="0.82" fill="#40b840" stroke="none" stroke-width="1" opacity="0.55"/>
<circle cx="186.46" cy="277.69" r="0.67" fill="#40b840" stroke="none" stroke-width="1" opacity="0.68"/>
<circle cx="193.82" cy="275.67" r="0.65" fill="#40b840" stroke="none" stroke-width="1" opacity="0.50"/>
<circle cx="194.57" cy="273.48" r="0.76" fill="#40b840" stroke="none" stroke-width="1" opacity="0.63"/>
<circle cx="185.90" cy="265.96" r="0.61" fill="#40b840" stroke="none" stroke-width="1" opacity="0.44"/>
<circle cx="185.00" cy="274.07" r="0.76" fill="#40b840" stroke="none" stroke-width="1" opacity="0.40"/>
<circle cx="188.68" cy="280.56" r="0.61" fill="#40b840" stroke="none" stroke-width="1" opacity="0.69"/>
<circle cx="196.17" cy="267.71" r="0.53" fill="#40b840" stroke="none" stroke-width="1" opacity="0.34"/>
<circle cx="161.11" cy="278.80" r="0.58" fill="#40b840" stroke="none" stroke-width="1" opacity="0.47"/>
<circle cx="167.79" cy="263.22" r="0.80" fill="#40b840" stroke="none" stroke-width="1" opacity="0.57"/>
<circle cx="194.93" cy="288.92" r="0.70" fill="#40b840" stroke="none" stroke-width="1" opacity="0.45"/>
<circle cx="183.53" cy="271.29" r="0.59" fill="#40b840" stroke="none" stroke-width="1" opacity="0.36"/>
<circle cx="193.36" cy="270.30" r="0.64" fill="#40b840" stroke="none" stroke-width="1" opacity="0.70"/>
<circle cx="170.97" cy="277.97" r="0.73" fill="#40b840" stroke="none" stroke-width="1" opacity="0.70"/>
<circle cx="199.11" cy="289.84" r="0.79" fill="#40b840" stroke="none" stroke-width="1" opacity="0.67"/>
<circle cx="192.66" cy="280.80" r="0.57" fill="#40b840" stroke="none" stroke-width="1" opacity="0.69"/>
<circle cx="161.29" cy="265.45" r="0.80" fill="#40b840" stroke="none" stroke-width="1" opacity="0.48"/>
<circle cx="182.57" cy="302.57" r="0.54" fill="#40b840" stroke="none" stroke-width="1" opacity="0.54"/>
<circle cx="174.80" cy="269.87" r="0.55" fill="#40b840" stroke="none" stroke-width="1" opacity="0.38"/>
<circle cx="183.42" cy="299.67" r="0.57" fill="#40b840" stroke="none" stroke-width="1" opacity="0.30"/>
<circle cx="177.79" cy="290.49" r="0.61" fill="#40b840" stroke="none" stroke-width="1" opacity="0.38"/>
<circle cx="187.47" cy="266.95" r="0.54" fill="#40b840" stroke="none" stroke-width="1" opacity="0.46"/>
<circle cx="171.64" cy="274.52" r="0.56" fill="#40b840" stroke="none" stroke-width="1" opacity="0.58"/>
<circle cx="176.73" cy="283.25" r="0.83" fill="#40b840" stroke="none" stroke-width="1" opacity="0.42"/>
<circle cx="169.18" cy="271.96" r="0.80" fill="#40b840" stroke="none" stroke-width="1" opacity="0.70"/>
<circle cx="176.14" cy="287.72" r="0.57" fill="#40b840" stroke="none" stroke-width="1" opacity="0.30"/>
<circle cx="198.54" cy="268.29" r="0.64" fill="#40b840" stroke="none" stroke-width="1" opacity="0.65"/>
<circle cx="177.68" cy="280.18" r="0.69" fill="#40b840" stroke="none" stroke-width="1" opacity="0.56"/>
<circle cx="190.94" cy="274.21" r="0.63" fill="#40b840" stroke="none" stroke-width="1" opacity="0.50"/>
<circle cx="192.91" cy="290.09" r="0.82" fill="#40b840" stroke="none" stroke-width="1" opacity="0.34"/>
<circle cx="159.66" cy="280.03" r="0.57" fill="#40b840" stroke="none" stroke-width="1" opacity="0.35"/>
<circle cx="209.30" cy="269.15" r="0.52" fill="#40b840" stroke="none" stroke-width="1" opacity="0.67"/>
<circle cx="164.32" cy="295.36" r="0.79" fill="#40b840" stroke="none" stroke-width="1" opacity="0.36"/>
<circle cx="186.94" cy="266.05" r="0.80" fill="#40b840" stroke="none" stroke-width="1" opacity="0.63"/>
<circle cx="189.28" cy="290.20" r="0.68" fill="#40b840" stroke="none" stroke-width="1" opacity="0.45"/>
<circle cx="193.77" cy="288.04" r="0.81" fill="#40b840" stroke="none" stroke-width="1" opacity="0.32"/>
<circle cx="170.92" cy="273.14" r="0.79" fill="#40b840" stroke="none" stroke-width="1" opacity="0.35"/>
<circle cx="167.68" cy="266.74" r="0.61" fill="#40b840" stroke="none" stroke-width="1" opacity="0.47"/>
<circle cx="168.63" cy="269.75" r="0.66" fill="#40b840" stroke="none" stroke-width="1" opacity="0.48"/>
<circle cx="205.29" cy="281.71" r="0.58" fill="#40b840" stroke="none" stroke-width="1" opacity="0.61"/>
<circle cx="186.15" cy="267.70" r="0.67" fill="#40b840" stroke="none" stroke-width="1" opacity="0.34"/>
<circle cx="191.50" cy="286.33" r="0.65" fill="#40b840" stroke="none" stroke-width="1" opacity="0.50"/>
<circle cx="196.70" cy="281.88" r="0.76" fill="#40b840" stroke="none" stroke-width="1" opacity="0.61"/>
<circle cx="177.74" cy="278.12" r="0.63" fill="#40b840" stroke="none" stroke-width="1" opacity="0.68"/>
<circle cx="200.63" cy="297.63" r="0.76" fill="#40b840" stroke="none" stroke-width="1" opacity="0.63"/>
<circle cx="193.43" cy="303.92" r="0.83" fill="#40b840" stroke="none" stroke-width="1" opacity="0.67"/>
<circle cx="196.38" cy="299.42" r="0.52" fill="#40b840" stroke="none" stroke-width="1" opacity="0.44"/>
<circle cx="184.50" cy="267.72" r="0.60" fill="#40b840" stroke="none" stroke-width="1" opacity="0.63"/>
<circle cx="196.05" cy="293.74" r="0.57" fill="#40b840" stroke="none" stroke-width="1" opacity="0.41"/>
<circle cx="174.84" cy="278.23" r="0.56" fill="#40b840" stroke="none" stroke-width="1" opacity="0.36"/>
<circle cx="204.78" cy="269.83" r="0.56" fill="#40b840" stroke="none" stroke-width="1" opacity="0.61"/>
<circle cx="198.97" cy="291.72" r="0.63" fill="#40b840" stroke="none" stroke-width="1" opacity="0.65"/>
<circle cx="164.55" cy="271.52" r="0.54" fill="#40b840" stroke="none" stroke-width="1" opacity="0.70"/>
<circle cx="172.34" cy="266.11" r="0.59" fill="#40b840" stroke="none" stroke-width="1" opacity="0.70"/>
<circle cx="169.61" cy="270.93" r="0.65" fill="#40b840" stroke="none" stroke-width="1" opacity="0.37"/>
<circle cx="183.83" cy="272.59" r="0.59" fill="#40b840" stroke="none" stroke-width="1" opacity="0.56"/>
<circle cx="204.84" cy="276.49" r="0.61" fill="#40b840" stroke="none" stroke-width="1" opacity="0.30"/>
<circle cx="194.38" cy="280.80" r="0.65" fill="#40b840" stroke="none" stroke-width="1" opacity="0.51"/>
<circle cx="188.78" cy="274.95" r="0.73" fill="#40b840" stroke="none" stroke-width="1" opacity="0.31"/>
<circle cx="193.82" cy="278.74" r="0.63" fill="#40b840" stroke="none" stroke-width="1" opacity="0.39"/>
<circle cx="173.21" cy="272.28" r="0.72" fill="#40b840" stroke="none" stroke-width="1" opacity="0.49"/>
<circle cx="194.56" cy="290.43" r="0.55" fill="#40b840" stroke="none" stroke-width="1" opacity="0.34"/>
<circle cx="167.63" cy="259.15" r="0.64" fill="#40b840" stroke="none" stroke-width="1" opacity="0.41"/>
<circle cx="205.91" cy="280.16" r="0.62" fill="#40b840" stroke="none" stroke-width="1" opacity="0.56"/>
<circle cx="159.31" cy="287.71" r="0.59" fill="#40b840" stroke="none" stroke-width="1" opacity="0.66"/>
<circle cx="203.20" cy="284.00" r="0.58" fill="#40b840" stroke="none" stroke-width="1" opacity="0.32"/>
<circle cx="184.62" cy="275.59" r="0.83" fill="#40b840" stroke="none" stroke-width="1" opacity="0.36"/>
<circle cx="190.71" cy="298.78" r="0.72" fill="#40b840" stroke="none" stroke-width="1" opacity="0.63"/>
<circle cx="188.22" cy="286.67" r="0.52" fill="#40b840" stroke="none" stroke-width="1" opacity="0.66"/>
<circle cx="186.92" cy="265.03" r="0.80" fill="#40b840" stroke="none" stroke-width="1" opacity="0.60"/>
<circle cx="161.15" cy="283.66" r="0.58" fill="#40b840" stroke="none" stroke-width="1" opacity="0.34"/>
<circle cx="184.43" cy="281.78" r="0.76" fill="#40b840" stroke="none" stroke-width="1" opacity="0.58"/>
<circle cx="191.86" cy="267.18" r="0.69" fill="#40b840" stroke="none" stroke-width="1" opacity="0.47"/>
<circle cx="186.91" cy="267.09" r="0.72" fill="#40b840" stroke="none" stroke-width="1" opacity="0.69"/>
<circle cx="187.23" cy="293.59" r="0.59" fill="#40b840" stroke="none" stroke-width="1" opacity="0.39"/>
<circle cx="183.06" cy="252.09" r="0.61" fill="#40b840" stroke="none" stroke-width="1" opacity="0.65"/>
<circle cx="177.76" cy="290.32" r="0.72" fill="#40b840" stroke="none" stroke-width="1" opacity="0.58"/>
<circle cx="170.38" cy="255.33" r="0.79" fill="#40b840" stroke="none" stroke-width="1" opacity="0.58"/>
<circle cx="195.35" cy="264.51" r="0.70" fill="#40b840" stroke="none" stroke-width="1" opacity="0.42"/>
<circle cx="187.13" cy="291.12" r="0.82" fill="#40b840" stroke="none" stroke-width="1" opacity="0.36"/>
<circle cx="192.85" cy="280.07" r="0.62" fill="#40b840" stroke="none" stroke-width="1" opacity="0.36"/>
<circle cx="189.55" cy="279.57" r="0.72" fill="#40b840" stroke="none" stroke-width="1" opacity="0.58"/>
<circle cx="183.50" cy="271.61" r="0.63" fill="#40b840" stroke="none" stroke-width="1" opacity="0.63"/>
<circle cx="190.61" cy="264.58" r="0.80" fill="#40b840" stroke="none" stroke-width="1" opacity="0.67"/>
<circle cx="189.10" cy="276.74" r="0.54" fill="#40b840" stroke="none" stroke-width="1" opacity="0.31"/>
<circle cx="198.23" cy="258.49" r="0.79" fill="#40b840" stroke="none" stroke-width="1" opacity="0.55"/>
<circle cx="182.87" cy="283.60" r="0.77" fill="#40b840" stroke="none" stroke-width="1" opacity="0.38"/>
<circle cx="179.59" cy="288.24" r="0.59" fill="#40b840" stroke="none" stroke-width="1" opacity="0.41"/>
<circle cx="181.96" cy="268.88" r="0.84" fill="#40b840" stroke="none" stroke-width="1" opacity="0.50"/>
<circle cx="191.73" cy="268.23" r="0.64" fill="#40b840" stroke="none" stroke-width="1" opacity="0.47"/>
<circle cx="186.39" cy="262.69" r="0.69" fill="#40b840" stroke="none" stroke-width="1" opacity="0.39"/>
<circle cx="189.40" cy="272.32" r="0.56" fill="#40b840" stroke="none" stroke-width="1" opacity="0.30"/>
<circle cx="191.14" cy="301.31" r="0.50" fill="#40b840" stroke="none" stroke-width="1" opacity="0.50"/>
<circle cx="169.49" cy="279.36" r="0.67" fill="#40b840" stroke="none" stroke-width="1" opacity="0.44"/>
<circle cx="190.92" cy="266.46" r="0.60" fill="#40b840" stroke="none" stroke-width="1" opacity="0.39"/>
<circle cx="180.47" cy="267.60" r="0.72" fill="#40b840" stroke="none" stroke-width="1" opacity="0.33"/>
<circle cx="189.45" cy="256.45" r="0.72" fill="#40b840" stroke="none" stroke-width="1" opacity="0.44"/>
<circle cx="170.14" cy="288.53" r="0.53" fill="#40b840" stroke="none" stroke-width="1" opacity="0.66"/>
<circle cx="191.41" cy="279.74" r="0.82" fill="#40b840" stroke="none" stroke-width="1" opacity="0.50"/>
<circle cx="172.91" cy="289.15" r="0.66" fill="#40b840" stroke="none" stroke-width="1" opacity="0.51"/>
<circle cx="184.74" cy="254.93" r="0.62" fill="#40b840" stroke="none" stroke-width="1" opacity="0.43"/>
<circle cx="198.10" cy="299.31" r="0.76" fill="#40b840" stroke="none" stroke-width="1" opacity="0.37"/>
<circle cx="161.85" cy="287.57" r="0.54" fill="#40b840" stroke="none" stroke-width="1" opacity="0.48"/>
<circle cx="190.06" cy="273.30" r="0.61" fill="#40b840" stroke="none" stroke-width="1" opacity="0.58"/>
<circle cx="187.65" cy="273.22" r="0.59" fill="#40b840" stroke="none" stroke-width="1" opacity="0.43"/>
<circle cx="177.58" cy="277.66" r="0.57" fill="#40b840" stroke="none" stroke-width="1" opacity="0.69"/>
<circle cx="182.92" cy="269.95" r="0.54" fill="#40b840" stroke="none" stroke-width="1" opacity="0.45"/>
<circle cx="208.26" cy="276.11" r="0.65" fill="#40b840" stroke="none" stroke-width="1" opacity="0.38"/>
<circle cx="180.61" cy="274.50" r="0.64" fill="#40b840" stroke="none" stroke-width="1" opacity="0.31"/>
<circle cx="164.55" cy="292.95" r="0.68" fill="#40b840" stroke="none" stroke-width="1" opacity="0.55"/>
<circle cx="174.08" cy="280.92" r="0.64" fill="#40b840" stroke="none" stroke-width="1" opacity="0.60"/>
<circle cx="199.05" cy="268.81" r="0.76" fill="#40b840" stroke="none" stroke-width="1" opacity="0.47"/>
<circle cx="187.19" cy="301.54" r="0.77" fill="#40b840" stroke="none" stroke-width="1" opacity="0.58"/>
<circle cx="197.56" cy="260.60" r="0.66" fill="#40b840" stroke="none" stroke-width="1" opacity="0.43"/>
<circle cx="178.17" cy="272.42" r="0.77" fill="#40b840" stroke="none" stroke-width="1" opacity="0.59"/>
<circle cx="174.72" cy="268.66" r="0.66" fill="#40b840" stroke="none" stroke-width="1" opacity="0.55"/>
<circle cx="165.21" cy="290.66" r="0.56" fill="#40b840" stroke="none" stroke-width="1" opacity="0.56"/>
<circle cx="187.07" cy="261.84" r="0.84" fill="#40b840" stroke="none" stroke-width="1" opacity="0.32"/>
<circle cx="173.54" cy="275.63" r="0.83" fill="#40b840" stroke="none" stroke-width="1" opacity="0.51"/>
<circle cx="200.71" cy="290.84" r="0.75" fill="#40b840" stroke="none" stroke-width="1" opacity="0.50"/>
<circle cx="168.16" cy="259.52" r="0.64" fill="#40b840" stroke="none" stroke-width="1" opacity="0.68"/>
<circle cx="189.67" cy="300.42" r="0.77" fill="#40b840" stroke="none" stroke-width="1" opacity="0.35"/>
<circle cx="193.78" cy="277.62" r="0.60" fill="#40b840" stroke="none" stroke-width="1" opacity="0.46"/>
<circle cx="201.65" cy="280.05" r="0.74" fill="#40b840" stroke="none" stroke-width="1" opacity="0.44"/>
<circle cx="182.85" cy="291.43" r="0.83" fill="#40b840" stroke="none" stroke-width="1" opacity="0.51"/>
<circle cx="188.81" cy="302.52" r="0.57" fill="#40b840" stroke="none" stroke-width="1" opacity="0.35"/>
<circle cx="188.16" cy="254.39" r="0.66" fill="#40b840" stroke="none" stroke-width="1" opacity="0.52"/>
<circle cx="188.10" cy="305.04" r="0.72" fill="#40b840" stroke="none" stroke-width="1" opacity="0.63"/>
<circle cx="188.60" cy="268.34" r="0.69" fill="#40b840" stroke="none" stroke-width="1" opacity="0.35"/>
<circle cx="192.23" cy="264.53" r="0.59" fill="#40b840" stroke="none" stroke-width="1" opacity="0.45"/>
<circle cx="183.84" cy="289.25" r="0.50" fill="#40b840" stroke="none" stroke-width="1" opacity="0.59"/>
<circle cx="182.50" cy="286.52" r="0.67" fill="#40b840" stroke="none" stroke-width="1" opacity="0.47"/>
<circle cx="169.68" cy="261.76" r="0.83" fill="#40b840" stroke="none" stroke-width="1" opacity="0.64"/>
<circle cx="207.31" cy="287.28" r="0.77" fill="#40b840" stroke="none" stroke-width="1" opacity="0.36"/>
<circle cx="190.44" cy="267.22" r="0.50" fill="#40b840" stroke="none" stroke-width="1" opacity="0.68"/>
<circle cx="179.52" cy="271.78" r="0.55" fill="#40b840" stroke="none" stroke-width="1" opacity="0.39"/>
<circle cx="185.66" cy="269.08" r="0.82" fill="#40b840" stroke="none" stroke-width="1" opacity="0.62"/>
<circle cx="196.77" cy="300.96" r="0.77" fill="#40b840" stroke="none" stroke-width="1" opacity="0.57"/>
<circle cx="203.10" cy="263.61" r="0.57" fill="#40b840" stroke="none" stroke-width="1" opacity="0.58"/>
<circle cx="161.03" cy="274.06" r="0.81" fill="#40b840" stroke="none" stroke-width="1" opacity="0.52"/>
<circle cx="183.36" cy="286.46" r="0.67" fill="#40b840" stroke="none" stroke-width="1" opacity="0.32"/>
<circle cx="173.93" cy="280.70" r="0.67" fill="#40b840" stroke="none" stroke-width="1" opacity="0.52"/>
<circle cx="185.52" cy="276.89" r="0.66" fill="#40b840" stroke="none" stroke-width="1" opacity="0.53"/>
<circle cx="171.39" cy="257.03" r="0.65" fill="#40b840" stroke="none" stroke-width="1" opacity="0.68"/>
<circle cx="203.44" cy="288.50" r="0.51" fill="#40b840" stroke="none" stroke-width="1" opacity="0.54"/>
<circle cx="177.59" cy="264.18" r="0.84" fill="#40b840" stroke="none" stroke-width="1" opacity="0.50"/>
<circle cx="168.65" cy="280.06" r="0.75" fill="#40b840" stroke="none" stroke-width="1" opacity="0.55"/>
<circle cx="170.70" cy="300.06" r="0.67" fill="#40b840" stroke="none" stroke-width="1" opacity="0.51"/>
<circle cx="185.69" cy="266.16" r="0.65" fill="#40b840" stroke="none" stroke-width="1" opacity="0.52"/>
<circle cx="190.92" cy="265.50" r="0.64" fill="#40b840" stroke="none" stroke-width="1" opacity="0.50"/>
<circle cx="181.44" cy="297.80" r="0.73" fill="#40b840" stroke="none" stroke-width="1" opacity="0.62"/>
<circle cx="179.59" cy="286.62" r="0.71" fill="#40b840" stroke="none" stroke-width="1" opacity="0.55"/>
<circle cx="185.24" cy="273.24" r="0.81" fill="#40b840" stroke="none" stroke-width="1" opacity="0.52"/>
<circle cx="192.61" cy="281.33" r="0.57" fill="#40b840" stroke="none" stroke-width="1" opacity="0.67"/>
<circle cx="166.92" cy="264.62" r="0.82" fill="#40b840" stroke="none" stroke-width="1" opacity="0.54"/>
<circle cx="168.04" cy="264.13" r="0.71" fill="#40b840" stroke="none" stroke-width="1" opacity="0.57"/>
<circle cx="189.27" cy="300.23" r="0.77" fill="#40b840" stroke="none" stroke-width="1" opacity="0.34"/>
<circle cx="186.27" cy="283.34" r="0.82" fill="#40b840" stroke="none" stroke-width="1" opacity="0.56"/>
<circle cx="167.28" cy="296.72" r="0.70" fill="#40b840" stroke="none" stroke-width="1" opacity="0.40"/>
<circle cx="180.66" cy="288.64" r="0.65" fill="#40b840" stroke="none" stroke-width="1" opacity="0.56"/>
<circle cx="189.90" cy="276.00" r="0.51" fill="#40b840" stroke="none" stroke-width="1" opacity="0.35"/>
<circle cx="191.73" cy="259.36" r="0.66" fill="#40b840" stroke="none" stroke-width="1" opacity="0.31"/>
<circle cx="168.15" cy="292.23" r="0.84" fill="#40b840" stroke="none" stroke-width="1" opacity="0.49"/>
<circle cx="176.65" cy="283.13" r="0.57" fill="#40b840" stroke="none" stroke-width="1" opacity="0.36"/>
<circle cx="185.95" cy="278.76" r="0.54" fill="#40b840" stroke="none" stroke-width="1" opacity="0.69"/>
<circle cx="197.05" cy="286.60" r="0.51" fill="#40b840" stroke="none" stroke-width="1" opacity="0.59"/>
<circle cx="184.76" cy="292.57" r="0.52" fill="#40b840" stroke="none" stroke-width="1" opacity="0.61"/>
<circle cx="178.35" cy="254.02" r="0.53" fill="#40b840" stroke="none" stroke-width="1" opacity="0.55"/>
<circle cx="179.39" cy="260.67" r="0.59" fill="#40b840" stroke="none" stroke-width="1" opacity="0.69"/>
<circle cx="183.72" cy="276.87" r="0.73" fill="#40b840" stroke="none" stroke-width="1" opacity="0.63"/>
<circle cx="197.42" cy="285.87" r="0.56" fill="#40b840" stroke="none" stroke-width="1" opacity="0.64"/>
<circle cx="177.43" cy="279.15" r="0.70" fill="#40b840" stroke="none" stroke-width="1" opacity="0.48"/>
<circle cx="179.47" cy="269.27" r="0.63" fill="#40b840" stroke="none" stroke-width="1" opacity="0.56"/>
<circle cx="171.98" cy="265.75" r="0.78" fill="#40b840" stroke="none" stroke-width="1" opacity="0.68"/>
<circle cx="186.73" cy="266.55" r="0.52" fill="#40b840" stroke="none" stroke-width="1" opacity="0.69"/>
<circle cx="179.77" cy="264.33" r="0.71" fill="#40b840" stroke="none" stroke-width="1" opacity="0.69"/>
<circle cx="190.28" cy="267.51" r="0.65" fill="#40b840" stroke="none" stroke-width="1" opacity="0.66"/>
<circle cx="167.95" cy="294.36" r="0.81" fill="#40b840" stroke="none" stroke-width="1" opacity="0.62"/>
<circle cx="183.94" cy="279.23" r="0.65" fill="#40b840" stroke="none" stroke-width="1" opacity="0.53"/>
<circle cx="190.28" cy="264.47" r="0.79" fill="#40b840" stroke="none" stroke-width="1" opacity="0.62"/>
<circle cx="192.38" cy="269.41" r="0.80" fill="#40b840" stroke="none" stroke-width="1" opacity="0.62"/>
<circle cx="177.83" cy="264.24" r="0.53" fill="#40b840" stroke="none" stroke-width="1" opacity="0.52"/>
<circle cx="187.66" cy="266.91" r="0.83" fill="#40b840" stroke="none" stroke-width="1" opacity="0.39"/>
<circle cx="166.51" cy="264.61" r="0.57" fill="#40b840" stroke="none" stroke-width="1" opacity="0.40"/>
<circle cx="184.25" cy="254.32" r="0.53" fill="#40b840" stroke="none" stroke-width="1" opacity="0.62"/>
<circle cx="185.90" cy="265.55" r="0.81" fill="#40b840" stroke="none" stroke-width="1" opacity="0.65"/>
<circle cx="165.43" cy="276.00" r="0.57" fill="#40b840" stroke="none" stroke-width="1" opacity="0.38"/>
<circle cx="193.70" cy="299.27" r="0.70" fill="#40b840" stroke="none" stroke-width="1" opacity="0.46"/>
<circle cx="177.80" cy="277.89" r="0.85" fill="#40b840" stroke="none" stroke-width="1" opacity="0.45"/>
<circle cx="201.12" cy="291.99" r="0.55" fill="#40b840" stroke="none" stroke-width="1" opacity="0.54"/>
<circle cx="177.45" cy="288.33" r="0.51" fill="#40b840" stroke="none" stroke-width="1" opacity="0.70"/>
<circle cx="196.75" cy="264.40" r="0.59" fill="#40b840" stroke="none" stroke-width="1" opacity="0.61"/>
<circle cx="160.37" cy="290.48" r="0.79" fill="#40b840" stroke="none" stroke-width="1" opacity="0.69"/>
<circle cx="184.00" cy="281.76" r="0.56" fill="#40b840" stroke="none" stroke-width="1" opacity="0.33"/>
<circle cx="203.39" cy="284.99" r="0.66" fill="#40b840" stroke="none" stroke-width="1" opacity="0.68"/>
<circle cx="189.91" cy="274.87" r="0.64" fill="#40b840" stroke="none" stroke-width="1" opacity="0.35"/>
<circle cx="197.45" cy="275.08" r="0.72" fill="#40b840" stroke="none" stroke-width="1" opacity="0.68"/>
<circle cx="175.81" cy="263.61" r="0.56" fill="#40b840" stroke="none" stroke-width="1" opacity="0.69"/>
<circle cx="191.77" cy="278.17" r="0.59" fill="#40b840" stroke="none" stroke-width="1" opacity="0.44"/>
<circle cx="205.31" cy="263.70" r="0.52" fill="#40b840" stroke="none" stroke-width="1" opacity="0.61"/>
<circle cx="178.57" cy="257.35" r="0.52" fill="#40b840" stroke="none" stroke-width="1" opacity="0.36"/>
<circle cx="184.90" cy="252.16" r="0.60" fill="#40b840" stroke="none" stroke-width="1" opacity="0.54"/>
<circle cx="184.34" cy="273.27" r="0.59" fill="#40b840" stroke="none" stroke-width="1" opacity="0.35"/>
<circle cx="177.40" cy="279.36" r="0.55" fill="#40b840" stroke="none" stroke-width="1" opacity="0.57"/>
<circle cx="197.89" cy="279.67" r="0.51" fill="#40b840" stroke="none" stroke-width="1" opacity="0.67"/>
<circle cx="188.92" cy="304.47" r="0.81" fill="#40b840" stroke="none" stroke-width="1" opacity="0.36"/>
<circle cx="176.05" cy="281.34" r="0.79" fill="#40b840" stroke="none" stroke-width="1" opacity="0.55"/>
<circle cx="168.89" cy="283.26" r="0.67" fill="#40b840" stroke="none" stroke-width="1" opacity="0.55"/>
<circle cx="188.88" cy="284.59" r="0.75" fill="#40b840" stroke="none" stroke-width="1" opacity="0.52"/>
<circle cx="193.45" cy="290.62" r="0.64" fill="#40b840" stroke="none" stroke-width="1" opacity="0.36"/>
<circle cx="182.09" cy="293.43" r="0.56" fill="#40b840" stroke="none" stroke-width="1" opacity="0.50"/>
<circle cx="177.63" cy="292.72" r="0.84" fill="#40b840" stroke="none" stroke-width="1" opacity="0.32"/>
<circle cx="194.64" cy="270.38" r="0.67" fill="#40b840" stroke="none" stroke-width="1" opacity="0.41"/>
<circle cx="183.48" cy="290.80" r="0.85" fill="#40b840" stroke="none" stroke-width="1" opacity="0.70"/>
<circle cx="188.63" cy="276.26" r="0.81" fill="#40b840" stroke="none" stroke-width="1" opacity="0.32"/>
<circle cx="181.90" cy="263.96" r="0.51" fill="#40b840" stroke="none" stroke-width="1" opacity="0.62"/>
<circle cx="180.76" cy="283.73" r="0.79" fill="#40b840" stroke="none" stroke-width="1" opacity="0.51"/>
<circle cx="191.13" cy="295.12" r="0.58" fill="#40b840" stroke="none" stroke-width="1" opacity="0.53"/>
<circle cx="191.56" cy="287.40" r="0.75" fill="#40b840" stroke="none" stroke-width="1" opacity="0.38"/>
<circle cx="191.16" cy="282.43" r="0.67" fill="#40b840" stroke="none" stroke-width="1" opacity="0.41"/>
<circle cx="189.89" cy="299.10" r="0.78" fill="#40b840" stroke="none" stroke-width="1" opacity="0.53"/>
<circle cx="186.14" cy="285.25" r="0.64" fill="#40b840" stroke="none" stroke-width="1" opacity="0.59"/>
<circle cx="197.92" cy="283.60" r="0.79" fill="#40b840" stroke="none" stroke-width="1" opacity="0.65"/>
<circle cx="180.69" cy="278.72" r="0.67" fill="#40b840" stroke="none" stroke-width="1" opacity="0.65"/>
<circle cx="182.88" cy="290.27" r="0.63" fill="#40b840" stroke="none" stroke-width="1" opacity="0.37"/>
<circle cx="175.37" cy="287.71" r="0.68" fill="#40b840" stroke="none" stroke-width="1" opacity="0.48"/>
<circle cx="174.65" cy="277.65" r="0.79" fill="#40b840" stroke="none" stroke-width="1" opacity="0.65"/>
<circle cx="174.16" cy="299.32" r="0.76" fill="#40b840" stroke="none" stroke-width="1" opacity="0.32"/>
<circle cx="202.64" cy="259.49" r="0.68" fill="#40b840" stroke="none" stroke-width="1" opacity="0.51"/>
<circle cx="180.26" cy="277.66" r="0.58" fill="#40b840" stroke="none" stroke-width="1" opacity="0.37"/>
<circle cx="194.98" cy="286.78" r="0.51" fill="#40b840" stroke="none" stroke-width="1" opacity="0.34"/>
<circle cx="181.80" cy="271.72" r="0.71" fill="#40b840" stroke="none" stroke-width="1" opacity="0.53"/>
<circle cx="170.50" cy="276.61" r="0.80" fill="#40b840" stroke="none" stroke-width="1" opacity="0.59"/>
<circle cx="193.26" cy="281.25" r="0.68" fill="#40b840" stroke="none" stroke-width="1" opacity="0.41"/>
<circle cx="191.58" cy="285.80" r="0.71" fill="#40b840" stroke="none" stroke-width="1" opacity="0.64"/>
<circle cx="196.49" cy="295.06" r="0.56" fill="#40b840" stroke="none" stroke-width="1" opacity="0.63"/>
<circle cx="199.78" cy="272.08" r="0.79" fill="#40b840" stroke="none" stroke-width="1" opacity="0.51"/>
<circle cx="163.11" cy="294.70" r="0.62" fill="#40b840" stroke="none" stroke-width="1" opacity="0.40"/>
<circle cx="174.91" cy="294.06" r="0.78" fill="#40b840" stroke="none" stroke-width="1" opacity="0.67"/>
<circle cx="190.06" cy="264.75" r="0.68" fill="#40b840" stroke="none" stroke-width="1" opacity="0.68"/>
<circle cx="196.55" cy="273.12" r="0.72" fill="#40b840" stroke="none" stroke-width="1" opacity="0.45"/>
<circle cx="177.03" cy="277.20" r="0.68" fill="#40b840" stroke="none" stroke-width="1" opacity="0.31"/>
<circle cx="201.27" cy="299.20" r="0.83" fill="#40b840" stroke="none" stroke-width="1" opacity="0.55"/>
<circle cx="193.40" cy="254.69" r="0.51" fill="#40b840" stroke="none" stroke-width="1" opacity="0.56"/>
<circle cx="182.74" cy="291.98" r="0.69" fill="#40b840" stroke="none" stroke-width="1" opacity="0.67"/>
<circle cx="174.20" cy="269.15" r="0.65" fill="#40b840" stroke="none" stroke-width="1" opacity="0.68"/>
<circle cx="180.56" cy="293.23" r="0.54" fill="#40b840" stroke="none" stroke-width="1" opacity="0.54"/>
<circle cx="195.36" cy="275.38" r="0.66" fill="#40b840" stroke="none" stroke-width="1" opacity="0.51"/>
<circle cx="187.51" cy="283.20" r="0.60" fill="#40b840" stroke="none" stroke-width="1" opacity="0.46"/>
<circle cx="182.15" cy="286.41" r="0.69" fill="#40b840" stroke="none" stroke-width="1" opacity="0.64"/>
<circle cx="168.21" cy="265.46" r="0.57" fill="#40b840" stroke="none" stroke-width="1" opacity="0.58"/>
<circle cx="164.50" cy="283.49" r="0.66" fill="#40b840" stroke="none" stroke-width="1" opacity="0.42"/>
<circle cx="184.70" cy="291.39" r="0.63" fill="#40b840" stroke="none" stroke-width="1" opacity="0.53"/>
<circle cx="200.22" cy="279.78" r="0.58" fill="#40b840" stroke="none" stroke-width="1" opacity="0.52"/>
<circle cx="169.55" cy="279.36" r="0.60" fill="#40b840" stroke="none" stroke-width="1" opacity="0.61"/>
<circle cx="187.90" cy="284.49" r="0.65" fill="#40b840" stroke="none" stroke-width="1" opacity="0.32"/>
<circle cx="170.30" cy="290.29" r="0.54" fill="#40b840" stroke="none" stroke-width="1" opacity="0.39"/>
<circle cx="197.68" cy="275.02" r="0.62" fill="#40b840" stroke="none" stroke-width="1" opacity="0.44"/>
<circle cx="174.40" cy="259.48" r="0.79" fill="#40b840" stroke="none" stroke-width="1" opacity="0.51"/>
<circle cx="182.42" cy="255.13" r="0.67" fill="#40b840" stroke="none" stroke-width="1" opacity="0.61"/>
<circle cx="180.05" cy="263.46" r="0.80" fill="#40b840" stroke="none" stroke-width="1" opacity="0.30"/>
<circle cx="186.13" cy="257.81" r="0.84" fill="#40b840" stroke="none" stroke-width="1" opacity="0.53"/>
<circle cx="163.08" cy="290.48" r="0.71" fill="#40b840" stroke="none" stroke-width="1" opacity="0.45"/>
<circle cx="166.45" cy="284.02" r="0.60" fill="#40b840" stroke="none" stroke-width="1" opacity="0.46"/>
<circle cx="174.54" cy="275.12" r="0.78" fill="#40b840" stroke="none" stroke-width="1" opacity="0.64"/>
<circle cx="173.17" cy="278.61" r="0.61" fill="#40b840" stroke="none" stroke-width="1" opacity="0.36"/>
<circle cx="172.97" cy="272.88" r="0.82" fill="#40b840" stroke="none" stroke-width="1" opacity="0.43"/>
<circle cx="197.90" cy="257.79" r="0.57" fill="#40b840" stroke="none" stroke-width="1" opacity="0.47"/>
<circle cx="185.51" cy="277.67" r="0.70" fill="#40b840" stroke="none" stroke-width="1" opacity="0.50"/>
<circle cx="205.11" cy="267.06" r="0.85" fill="#40b840" stroke="none" stroke-width="1" opacity="0.51"/>
<circle cx="161.64" cy="276.13" r="0.63" fill="#40b840" stroke="none" stroke-width="1" opacity="0.54"/>
<circle cx="168.32" cy="299.94" r="0.68" fill="#40b840" stroke="none" stroke-width="1" opacity="0.34"/>
<circle cx="171.91" cy="290.83" r="0.70" fill="#40b840" stroke="none" stroke-width="1" opacity="0.65"/>
<circle cx="202.62" cy="274.36" r="0.72" fill="#40b840" stroke="none" stroke-width="1" opacity="0.70"/>
<circle cx="173.09" cy="295.11" r="0.56" fill="#40b840" stroke="none" stroke-width="1" opacity="0.43"/>
<circle cx="208.63" cy="275.23" r="0.54" fill="#40b840" stroke="none" stroke-width="1" opacity="0.66"/>
<circle cx="174.97" cy="255.62" r="0.81" fill="#40b840" stroke="none" stroke-width="1" opacity="0.47"/>
<circle cx="192.22" cy="290.79" r="0.68" fill="#40b840" stroke="none" stroke-width="1" opacity="0.38"/>
<circle cx="192.99" cy="298.30" r="0.62" fill="#40b840" stroke="none" stroke-width="1" opacity="0.70"/>
<circle cx="184.08" cy="337.93" r="28.70" fill="url(#r2)" stroke="none" stroke-width="1" />
<circle cx="180.41" cy="333.68" r="0.76" fill="#d01212" stroke="none" stroke-width="1" opacity="0.80"/>
<circle cx="176.17" cy="359.16" r="0.60" fill="#d01212" stroke="none" stroke-width="1" opacity="0.59"/>
<circle cx="195.50" cy="320.45" r="0.87" fill="#d01212" stroke="none" stroke-width="1" opacity="0.54"/>
<circle cx="163.80" cy="338.20" r="0.71" fill="#d01212" stroke="none" stroke-width="1" opacity="0.74"/>
<circle cx="157.38" cy="332.57" r="0.83" fill="#d01212" stroke="none" stroke-width="1" opacity="0.63"/>
<circle cx="191.87" cy="345.39" r="0.90" fill="#d01212" stroke="none" stroke-width="1" opacity="0.50"/>
<circle cx="193.18" cy="344.55" r="0.81" fill="#d01212" stroke="none" stroke-width="1" opacity="0.82"/>
<circle cx="165.51" cy="321.96" r="0.62" fill="#d01212" stroke="none" stroke-width="1" opacity="0.46"/>
<circle cx="186.07" cy="322.56" r="0.89" fill="#d01212" stroke="none" stroke-width="1" opacity="0.61"/>
<circle cx="190.90" cy="350.24" r="0.64" fill="#d01212" stroke="none" stroke-width="1" opacity="0.86"/>
<circle cx="170.07" cy="329.97" r="0.78" fill="#d01212" stroke="none" stroke-width="1" opacity="0.62"/>
<circle cx="208.30" cy="346.59" r="0.83" fill="#d01212" stroke="none" stroke-width="1" opacity="0.88"/>
<circle cx="164.13" cy="345.87" r="0.70" fill="#d01212" stroke="none" stroke-width="1" opacity="0.47"/>
<circle cx="206.94" cy="327.31" r="0.73" fill="#d01212" stroke="none" stroke-width="1" opacity="0.85"/>
<circle cx="190.12" cy="324.17" r="0.84" fill="#d01212" stroke="none" stroke-width="1" opacity="0.88"/>
<circle cx="157.51" cy="338.67" r="0.70" fill="#d01212" stroke="none" stroke-width="1" opacity="0.63"/>
<circle cx="181.55" cy="325.35" r="0.72" fill="#d01212" stroke="none" stroke-width="1" opacity="0.84"/>
<circle cx="159.92" cy="340.30" r="0.70" fill="#d01212" stroke="none" stroke-width="1" opacity="0.53"/>
<circle cx="176.66" cy="347.07" r="0.99" fill="#d01212" stroke="none" stroke-width="1" opacity="0.58"/>
<circle cx="175.52" cy="334.44" r="0.81" fill="#d01212" stroke="none" stroke-width="1" opacity="0.62"/>
<circle cx="178.35" cy="341.91" r="0.65" fill="#d01212" stroke="none" stroke-width="1" opacity="0.82"/>
<circle cx="176.06" cy="348.78" r="0.68" fill="#d01212" stroke="none" stroke-width="1" opacity="0.58"/>
<circle cx="184.49" cy="343.00" r="0.87" fill="#d01212" stroke="none" stroke-width="1" opacity="0.60"/>
<circle cx="196.84" cy="356.94" r="0.64" fill="#d01212" stroke="none" stroke-width="1" opacity="0.57"/>
<circle cx="189.04" cy="329.54" r="0.78" fill="#d01212" stroke="none" stroke-width="1" opacity="0.83"/>
<circle cx="187.76" cy="327.69" r="0.74" fill="#d01212" stroke="none" stroke-width="1" opacity="0.78"/>
<circle cx="164.98" cy="356.57" r="0.68" fill="#d01212" stroke="none" stroke-width="1" opacity="0.88"/>
<circle cx="171.08" cy="337.53" r="0.78" fill="#d01212" stroke="none" stroke-width="1" opacity="0.51"/>
<circle cx="180.31" cy="324.52" r="0.96" fill="#d01212" stroke="none" stroke-width="1" opacity="0.71"/>
<circle cx="174.94" cy="347.90" r="0.84" fill="#d01212" stroke="none" stroke-width="1" opacity="0.55"/>
<circle cx="190.72" cy="331.06" r="0.81" fill="#d01212" stroke="none" stroke-width="1" opacity="0.69"/>
<circle cx="181.01" cy="361.68" r="0.75" fill="#d01212" stroke="none" stroke-width="1" opacity="0.75"/>
<circle cx="170.23" cy="331.65" r="0.76" fill="#d01212" stroke="none" stroke-width="1" opacity="0.49"/>
<circle cx="195.20" cy="360.48" r="0.73" fill="#d01212" stroke="none" stroke-width="1" opacity="0.75"/>
<circle cx="199.91" cy="350.85" r="0.74" fill="#d01212" stroke="none" stroke-width="1" opacity="0.68"/>
<circle cx="182.04" cy="344.62" r="0.72" fill="#d01212" stroke="none" stroke-width="1" opacity="0.55"/>
<circle cx="200.28" cy="354.36" r="0.71" fill="#d01212" stroke="none" stroke-width="1" opacity="0.63"/>
<circle cx="204.25" cy="324.93" r="0.95" fill="#d01212" stroke="none" stroke-width="1" opacity="0.84"/>
<circle cx="193.75" cy="348.51" r="0.61" fill="#d01212" stroke="none" stroke-width="1" opacity="0.76"/>
<circle cx="175.73" cy="324.09" r="0.77" fill="#d01212" stroke="none" stroke-width="1" opacity="0.75"/>
<circle cx="179.81" cy="325.02" r="0.94" fill="#d01212" stroke="none" stroke-width="1" opacity="0.61"/>
<circle cx="176.06" cy="329.51" r="0.65" fill="#d01212" stroke="none" stroke-width="1" opacity="0.86"/>
<circle cx="181.77" cy="315.02" r="0.62" fill="#d01212" stroke="none" stroke-width="1" opacity="0.47"/>
<circle cx="190.45" cy="348.25" r="0.72" fill="#d01212" stroke="none" stroke-width="1" opacity="0.62"/>
<circle cx="198.82" cy="341.63" r="0.86" fill="#d01212" stroke="none" stroke-width="1" opacity="0.53"/>
<circle cx="195.05" cy="320.51" r="0.89" fill="#d01212" stroke="none" stroke-width="1" opacity="0.56"/>
<circle cx="163.38" cy="346.89" r="0.74" fill="#d01212" stroke="none" stroke-width="1" opacity="0.45"/>
<circle cx="196.21" cy="317.19" r="0.71" fill="#d01212" stroke="none" stroke-width="1" opacity="0.47"/>
<circle cx="197.01" cy="321.07" r="0.62" fill="#d01212" stroke="none" stroke-width="1" opacity="0.56"/>
<circle cx="202.65" cy="353.53" r="0.68" fill="#d01212" stroke="none" stroke-width="1" opacity="0.86"/>
<circle cx="184.05" cy="329.92" r="0.88" fill="#d01212" stroke="none" stroke-width="1" opacity="0.63"/>
<circle cx="183.69" cy="313.11" r="0.71" fill="#d01212" stroke="none" stroke-width="1" opacity="0.49"/>
<text x="155.90" y="255.90" font-size="7" text-anchor="start" fill="#e0e0e0" font-weight="bold">223</text>
<text x="155.90" y="315.25" font-size="7" text-anchor="start" fill="#e0e0e0" font-weight="bold">52</text>
<rect x="213.25" y="248.90" width="58.35" height="59.35" fill="#031003" stroke="none" stroke-width="1" />
<circle cx="242.43" cy="278.57" r="28.70" fill="url(#g3)" stroke="none" stroke-width="1" />
<circle cx="259.18" cy="272.70" r="0.87" fill="#3cc03c" stroke="none" stroke-width="1" opacity="0.63"/>
<circle cx="240.65" cy="253.80" r="0.75" fill="#3cc03c" stroke="none" stroke-width="1" opacity="0.53"/>
<circle cx="263.89" cy="286.20" r="0.67" fill="#3cc03c" stroke="none" stroke-width="1" opacity="0.55"/>
<circle cx="251.19" cy="274.32" r="0.80" fill="#3cc03c" stroke="none" stroke-width="1" opacity="0.37"/>
<circle cx="235.26" cy="255.17" r="0.60" fill="#3cc03c" stroke="none" stroke-width="1" opacity="0.57"/>
<circle cx="263.79" cy="274.42" r="0.72" fill="#3cc03c" stroke="none" stroke-width="1" opacity="0.45"/>
<circle cx="257.61" cy="284.52" r="0.66" fill="#3cc03c" stroke="none" stroke-width="1" opacity="0.43"/>
<circle cx="238.68" cy="287.93" r="0.78" fill="#3cc03c" stroke="none" stroke-width="1" opacity="0.62"/>
<circle cx="243.45" cy="291.94" r="0.71" fill="#3cc03c" stroke="none" stroke-width="1" opacity="0.53"/>
<circle cx="257.29" cy="272.23" r="0.62" fill="#3cc03c" stroke="none" stroke-width="1" opacity="0.70"/>
<circle cx="255.28" cy="294.50" r="0.63" fill="#3cc03c" stroke="none" stroke-width="1" opacity="0.68"/>
<circle cx="219.73" cy="271.48" r="0.57" fill="#3cc03c" stroke="none" stroke-width="1" opacity="0.62"/>
<circle cx="227.36" cy="267.82" r="0.81" fill="#3cc03c" stroke="none" stroke-width="1" opacity="0.68"/>
<circle cx="253.46" cy="288.24" r="0.64" fill="#3cc03c" stroke="none" stroke-width="1" opacity="0.43"/>
<circle cx="255.85" cy="283.92" r="0.58" fill="#3cc03c" stroke="none" stroke-width="1" opacity="0.63"/>
<circle cx="233.74" cy="281.52" r="0.63" fill="#3cc03c" stroke="none" stroke-width="1" opacity="0.54"/>
<circle cx="235.14" cy="287.05" r="0.53" fill="#3cc03c" stroke="none" stroke-width="1" opacity="0.35"/>
<circle cx="266.02" cy="277.41" r="0.53" fill="#3cc03c" stroke="none" stroke-width="1" opacity="0.64"/>
<circle cx="262.74" cy="276.04" r="0.54" fill="#3cc03c" stroke="none" stroke-width="1" opacity="0.55"/>
<circle cx="231.55" cy="283.34" r="0.72" fill="#3cc03c" stroke="none" stroke-width="1" opacity="0.35"/>
<circle cx="261.58" cy="267.98" r="0.75" fill="#3cc03c" stroke="none" stroke-width="1" opacity="0.72"/>
<circle cx="234.57" cy="267.38" r="0.60" fill="#3cc03c" stroke="none" stroke-width="1" opacity="0.41"/>
<circle cx="266.06" cy="282.73" r="0.84" fill="#3cc03c" stroke="none" stroke-width="1" opacity="0.47"/>
<circle cx="250.98" cy="298.60" r="0.84" fill="#3cc03c" stroke="none" stroke-width="1" opacity="0.72"/>
<circle cx="254.26" cy="299.63" r="0.83" fill="#3cc03c" stroke="none" stroke-width="1" opacity="0.65"/>
<circle cx="237.00" cy="288.95" r="0.83" fill="#3cc03c" stroke="none" stroke-width="1" opacity="0.48"/>
<circle cx="228.71" cy="293.46" r="0.65" fill="#3cc03c" stroke="none" stroke-width="1" opacity="0.68"/>
<circle cx="242.79" cy="284.10" r="0.73" fill="#3cc03c" stroke="none" stroke-width="1" opacity="0.60"/>
<circle cx="252.14" cy="257.84" r="0.86" fill="#3cc03c" stroke="none" stroke-width="1" opacity="0.73"/>
<circle cx="223.17" cy="279.26" r="0.56" fill="#3cc03c" stroke="none" stroke-width="1" opacity="0.47"/>
<circle cx="235.68" cy="274.81" r="0.78" fill="#3cc03c" stroke="none" stroke-width="1" opacity="0.42"/>
<circle cx="217.27" cy="287.96" r="0.54" fill="#3cc03c" stroke="none" stroke-width="1" opacity="0.37"/>
<circle cx="231.37" cy="282.99" r="0.79" fill="#3cc03c" stroke="none" stroke-width="1" opacity="0.35"/>
<circle cx="256.05" cy="257.35" r="0.81" fill="#3cc03c" stroke="none" stroke-width="1" opacity="0.52"/>
<circle cx="237.82" cy="300.27" r="0.71" fill="#3cc03c" stroke="none" stroke-width="1" opacity="0.52"/>
<circle cx="232.88" cy="293.90" r="0.77" fill="#3cc03c" stroke="none" stroke-width="1" opacity="0.68"/>
<circle cx="251.53" cy="272.30" r="0.62" fill="#3cc03c" stroke="none" stroke-width="1" opacity="0.53"/>
<circle cx="227.60" cy="272.34" r="0.58" fill="#3cc03c" stroke="none" stroke-width="1" opacity="0.38"/>
<circle cx="234.16" cy="295.13" r="0.89" fill="#3cc03c" stroke="none" stroke-width="1" opacity="0.71"/>
<circle cx="260.28" cy="258.43" r="0.88" fill="#3cc03c" stroke="none" stroke-width="1" opacity="0.60"/>
<circle cx="244.93" cy="272.38" r="0.77" fill="#3cc03c" stroke="none" stroke-width="1" opacity="0.59"/>
<circle cx="236.42" cy="298.29" r="0.88" fill="#3cc03c" stroke="none" stroke-width="1" opacity="0.54"/>
<circle cx="233.46" cy="266.65" r="0.64" fill="#3cc03c" stroke="none" stroke-width="1" opacity="0.70"/>
<circle cx="254.09" cy="280.64" r="0.77" fill="#3cc03c" stroke="none" stroke-width="1" opacity="0.53"/>
<circle cx="261.48" cy="289.88" r="0.65" fill="#3cc03c" stroke="none" stroke-width="1" opacity="0.58"/>
<circle cx="225.25" cy="288.53" r="0.73" fill="#3cc03c" stroke="none" stroke-width="1" opacity="0.51"/>
<circle cx="251.15" cy="286.19" r="0.86" fill="#3cc03c" stroke="none" stroke-width="1" opacity="0.57"/>
<circle cx="261.70" cy="294.99" r="0.60" fill="#3cc03c" stroke="none" stroke-width="1" opacity="0.39"/>
<circle cx="229.01" cy="275.95" r="0.70" fill="#3cc03c" stroke="none" stroke-width="1" opacity="0.57"/>
<circle cx="245.45" cy="298.98" r="0.55" fill="#3cc03c" stroke="none" stroke-width="1" opacity="0.56"/>
<circle cx="235.86" cy="274.50" r="0.66" fill="#3cc03c" stroke="none" stroke-width="1" opacity="0.38"/>
<circle cx="218.90" cy="287.97" r="0.72" fill="#3cc03c" stroke="none" stroke-width="1" opacity="0.64"/>
<circle cx="242.83" cy="269.35" r="0.90" fill="#3cc03c" stroke="none" stroke-width="1" opacity="0.64"/>
<circle cx="262.33" cy="293.44" r="0.66" fill="#3cc03c" stroke="none" stroke-width="1" opacity="0.42"/>
<circle cx="262.24" cy="273.49" r="0.81" fill="#3cc03c" stroke="none" stroke-width="1" opacity="0.40"/>
<circle cx="243.50" cy="272.12" r="0.59" fill="#3cc03c" stroke="none" stroke-width="1" opacity="0.50"/>
<circle cx="263.35" cy="280.58" r="0.59" fill="#3cc03c" stroke="none" stroke-width="1" opacity="0.47"/>
<circle cx="237.72" cy="261.41" r="0.86" fill="#3cc03c" stroke="none" stroke-width="1" opacity="0.60"/>
<circle cx="256.63" cy="263.85" r="0.87" fill="#3cc03c" stroke="none" stroke-width="1" opacity="0.70"/>
<circle cx="254.02" cy="299.06" r="0.64" fill="#3cc03c" stroke="none" stroke-width="1" opacity="0.66"/>
<circle cx="231.95" cy="256.12" r="0.55" fill="#3cc03c" stroke="none" stroke-width="1" opacity="0.50"/>
<circle cx="240.30" cy="252.11" r="0.79" fill="#3cc03c" stroke="none" stroke-width="1" opacity="0.37"/>
<circle cx="235.58" cy="273.35" r="0.72" fill="#3cc03c" stroke="none" stroke-width="1" opacity="0.67"/>
<circle cx="262.32" cy="295.67" r="0.77" fill="#3cc03c" stroke="none" stroke-width="1" opacity="0.45"/>
<circle cx="248.80" cy="295.65" r="0.84" fill="#3cc03c" stroke="none" stroke-width="1" opacity="0.58"/>
<circle cx="245.41" cy="281.16" r="0.54" fill="#3cc03c" stroke="none" stroke-width="1" opacity="0.67"/>
<circle cx="250.45" cy="297.22" r="0.62" fill="#3cc03c" stroke="none" stroke-width="1" opacity="0.62"/>
<circle cx="234.84" cy="285.62" r="0.85" fill="#3cc03c" stroke="none" stroke-width="1" opacity="0.57"/>
<circle cx="233.33" cy="255.81" r="0.88" fill="#3cc03c" stroke="none" stroke-width="1" opacity="0.36"/>
<circle cx="236.62" cy="287.43" r="0.70" fill="#3cc03c" stroke="none" stroke-width="1" opacity="0.70"/>
<circle cx="244.03" cy="273.70" r="0.57" fill="#3cc03c" stroke="none" stroke-width="1" opacity="0.68"/>
<circle cx="235.10" cy="263.14" r="0.69" fill="#3cc03c" stroke="none" stroke-width="1" opacity="0.41"/>
<circle cx="252.05" cy="264.44" r="0.85" fill="#3cc03c" stroke="none" stroke-width="1" opacity="0.59"/>
<circle cx="256.33" cy="285.76" r="0.59" fill="#3cc03c" stroke="none" stroke-width="1" opacity="0.71"/>
<circle cx="237.60" cy="275.55" r="0.57" fill="#3cc03c" stroke="none" stroke-width="1" opacity="0.49"/>
<circle cx="222.14" cy="282.74" r="0.66" fill="#3cc03c" stroke="none" stroke-width="1" opacity="0.49"/>
<circle cx="263.16" cy="279.36" r="0.63" fill="#3cc03c" stroke="none" stroke-width="1" opacity="0.36"/>
<circle cx="216.22" cy="285.41" r="0.52" fill="#3cc03c" stroke="none" stroke-width="1" opacity="0.41"/>
<circle cx="235.64" cy="266.06" r="0.61" fill="#3cc03c" stroke="none" stroke-width="1" opacity="0.55"/>
<circle cx="240.87" cy="299.08" r="0.71" fill="#3cc03c" stroke="none" stroke-width="1" opacity="0.73"/>
<circle cx="242.43" cy="337.93" r="28.70" fill="url(#r3)" stroke="none" stroke-width="1" />
<circle cx="247.45" cy="337.68" r="1.01" fill="#d01212" stroke="none" stroke-width="1" opacity="0.70"/>
<circle cx="259.11" cy="320.68" r="1.05" fill="#d01212" stroke="none" stroke-width="1" opacity="0.64"/>
<circle cx="233.00" cy="348.90" r="1.14" fill="#d01212" stroke="none" stroke-width="1" opacity="0.74"/>
<circle cx="263.28" cy="329.46" r="0.87" fill="#d01212" stroke="none" stroke-width="1" opacity="0.69"/>
<circle cx="241.15" cy="318.52" r="1.05" fill="#d01212" stroke="none" stroke-width="1" opacity="0.51"/>
<circle cx="225.93" cy="332.48" r="0.73" fill="#d01212" stroke="none" stroke-width="1" opacity="0.50"/>
<circle cx="230.39" cy="362.21" r="0.96" fill="#d01212" stroke="none" stroke-width="1" opacity="0.52"/>
<circle cx="242.97" cy="351.13" r="0.89" fill="#d01212" stroke="none" stroke-width="1" opacity="0.41"/>
<circle cx="267.84" cy="339.08" r="0.95" fill="#d01212" stroke="none" stroke-width="1" opacity="0.55"/>
<circle cx="228.81" cy="331.65" r="0.79" fill="#d01212" stroke="none" stroke-width="1" opacity="0.38"/>
<circle cx="237.61" cy="352.28" r="1.10" fill="#d01212" stroke="none" stroke-width="1" opacity="0.60"/>
<circle cx="257.12" cy="331.83" r="1.21" fill="#d01212" stroke="none" stroke-width="1" opacity="0.61"/>
<circle cx="252.53" cy="343.48" r="1.02" fill="#d01212" stroke="none" stroke-width="1" opacity="0.79"/>
<circle cx="227.48" cy="356.70" r="0.94" fill="#d01212" stroke="none" stroke-width="1" opacity="0.74"/>
<circle cx="259.71" cy="345.76" r="1.19" fill="#d01212" stroke="none" stroke-width="1" opacity="0.47"/>
<circle cx="242.23" cy="342.06" r="0.79" fill="#d01212" stroke="none" stroke-width="1" opacity="0.47"/>
<circle cx="238.82" cy="325.71" r="0.92" fill="#d01212" stroke="none" stroke-width="1" opacity="0.44"/>
<circle cx="222.20" cy="322.66" r="1.06" fill="#d01212" stroke="none" stroke-width="1" opacity="0.44"/>
<circle cx="239.72" cy="311.30" r="1.03" fill="#d01212" stroke="none" stroke-width="1" opacity="0.39"/>
<circle cx="251.74" cy="314.17" r="0.89" fill="#d01212" stroke="none" stroke-width="1" opacity="0.41"/>
<circle cx="249.99" cy="356.42" r="1.18" fill="#d01212" stroke="none" stroke-width="1" opacity="0.64"/>
<circle cx="253.54" cy="332.07" r="0.88" fill="#d01212" stroke="none" stroke-width="1" opacity="0.69"/>
<circle cx="232.13" cy="323.95" r="1.07" fill="#d01212" stroke="none" stroke-width="1" opacity="0.50"/>
<circle cx="258.84" cy="344.12" r="0.73" fill="#d01212" stroke="none" stroke-width="1" opacity="0.63"/>
<circle cx="232.72" cy="354.45" r="1.03" fill="#d01212" stroke="none" stroke-width="1" opacity="0.47"/>
<circle cx="239.33" cy="338.65" r="1.21" fill="#d01212" stroke="none" stroke-width="1" opacity="0.60"/>
<circle cx="248.86" cy="337.42" r="1.04" fill="#d01212" stroke="none" stroke-width="1" opacity="0.68"/>
<circle cx="238.45" cy="345.25" r="0.79" fill="#d01212" stroke="none" stroke-width="1" opacity="0.41"/>
<circle cx="243.31" cy="329.80" r="1.15" fill="#d01212" stroke="none" stroke-width="1" opacity="0.54"/>
<circle cx="222.12" cy="332.89" r="1.01" fill="#d01212" stroke="none" stroke-width="1" opacity="0.65"/>
<circle cx="229.83" cy="328.58" r="1.11" fill="#d01212" stroke="none" stroke-width="1" opacity="0.47"/>
<circle cx="236.71" cy="314.80" r="1.13" fill="#d01212" stroke="none" stroke-width="1" opacity="0.49"/>
<circle cx="246.24" cy="311.24" r="0.95" fill="#d01212" stroke="none" stroke-width="1" opacity="0.48"/>
<circle cx="216.26" cy="334.06" r="0.77" fill="#d01212" stroke="none" stroke-width="1" opacity="0.35"/>
<circle cx="220.61" cy="341.27" r="1.13" fill="#d01212" stroke="none" stroke-width="1" opacity="0.51"/>
<circle cx="255.42" cy="337.07" r="1.12" fill="#d01212" stroke="none" stroke-width="1" opacity="0.39"/>
<circle cx="252.26" cy="339.67" r="0.73" fill="#d01212" stroke="none" stroke-width="1" opacity="0.58"/>
<circle cx="231.49" cy="333.97" r="1.22" fill="#d01212" stroke="none" stroke-width="1" opacity="0.51"/>
<circle cx="249.22" cy="347.19" r="1.11" fill="#d01212" stroke="none" stroke-width="1" opacity="0.76"/>
<circle cx="244.86" cy="341.88" r="1.13" fill="#d01212" stroke="none" stroke-width="1" opacity="0.46"/>
<circle cx="261.57" cy="335.79" r="1.05" fill="#d01212" stroke="none" stroke-width="1" opacity="0.50"/>
<circle cx="248.20" cy="320.36" r="0.88" fill="#d01212" stroke="none" stroke-width="1" opacity="0.76"/>
<circle cx="260.62" cy="352.56" r="0.74" fill="#d01212" stroke="none" stroke-width="1" opacity="0.64"/>
<circle cx="221.75" cy="352.58" r="0.73" fill="#d01212" stroke="none" stroke-width="1" opacity="0.60"/>
<circle cx="220.36" cy="351.94" r="1.22" fill="#d01212" stroke="none" stroke-width="1" opacity="0.63"/>
<circle cx="244.64" cy="351.43" r="0.84" fill="#d01212" stroke="none" stroke-width="1" opacity="0.55"/>
<circle cx="243.86" cy="350.13" r="1.12" fill="#d01212" stroke="none" stroke-width="1" opacity="0.64"/>
<circle cx="234.27" cy="363.86" r="0.82" fill="#d01212" stroke="none" stroke-width="1" opacity="0.61"/>
<circle cx="256.43" cy="359.03" r="1.18" fill="#d01212" stroke="none" stroke-width="1" opacity="0.47"/>
<circle cx="242.66" cy="313.19" r="0.86" fill="#d01212" stroke="none" stroke-width="1" opacity="0.50"/>
<circle cx="216.80" cy="340.26" r="0.79" fill="#d01212" stroke="none" stroke-width="1" opacity="0.66"/>
<circle cx="227.42" cy="327.36" r="1.02" fill="#d01212" stroke="none" stroke-width="1" opacity="0.75"/>
<circle cx="248.83" cy="362.74" r="0.90" fill="#d01212" stroke="none" stroke-width="1" opacity="0.70"/>
<circle cx="250.03" cy="329.11" r="1.18" fill="#d01212" stroke="none" stroke-width="1" opacity="0.80"/>
<circle cx="241.17" cy="342.00" r="0.76" fill="#d01212" stroke="none" stroke-width="1" opacity="0.79"/>
<circle cx="268.41" cy="339.47" r="0.78" fill="#d01212" stroke="none" stroke-width="1" opacity="0.68"/>
<circle cx="251.59" cy="344.37" r="1.08" fill="#d01212" stroke="none" stroke-width="1" opacity="0.39"/>
<circle cx="228.49" cy="360.03" r="1.09" fill="#d01212" stroke="none" stroke-width="1" opacity="0.75"/>
<circle cx="247.33" cy="337.29" r="0.83" fill="#d01212" stroke="none" stroke-width="1" opacity="0.71"/>
<circle cx="240.45" cy="333.00" r="0.98" fill="#d01212" stroke="none" stroke-width="1" opacity="0.45"/>
<circle cx="234.42" cy="341.66" r="0.71" fill="#d01212" stroke="none" stroke-width="1" opacity="0.80"/>
<circle cx="232.06" cy="361.28" r="0.77" fill="#d01212" stroke="none" stroke-width="1" opacity="0.57"/>
<circle cx="254.16" cy="351.37" r="0.80" fill="#d01212" stroke="none" stroke-width="1" opacity="0.66"/>
<circle cx="256.44" cy="356.70" r="0.98" fill="#d01212" stroke="none" stroke-width="1" opacity="0.40"/>
<circle cx="230.79" cy="353.21" r="1.21" fill="#d01212" stroke="none" stroke-width="1" opacity="0.51"/>
<circle cx="248.25" cy="364.10" r="1.19" fill="#d01212" stroke="none" stroke-width="1" opacity="0.68"/>
<circle cx="240.77" cy="349.28" r="0.85" fill="#d01212" stroke="none" stroke-width="1" opacity="0.38"/>
<circle cx="261.16" cy="343.14" r="0.92" fill="#d01212" stroke="none" stroke-width="1" opacity="0.60"/>
<circle cx="240.60" cy="340.06" r="1.08" fill="#d01212" stroke="none" stroke-width="1" opacity="0.64"/>
<circle cx="222.99" cy="332.42" r="1.08" fill="#d01212" stroke="none" stroke-width="1" opacity="0.79"/>
<circle cx="258.66" cy="321.50" r="0.92" fill="#d01212" stroke="none" stroke-width="1" opacity="0.49"/>
<circle cx="218.93" cy="351.01" r="0.91" fill="#d01212" stroke="none" stroke-width="1" opacity="0.52"/>
<circle cx="233.72" cy="343.45" r="1.25" fill="#d01212" stroke="none" stroke-width="1" opacity="0.35"/>
<circle cx="221.98" cy="321.48" r="0.84" fill="#d01212" stroke="none" stroke-width="1" opacity="0.62"/>
<circle cx="232.85" cy="347.27" r="0.81" fill="#d01212" stroke="none" stroke-width="1" opacity="0.40"/>
<circle cx="255.75" cy="317.79" r="1.20" fill="#d01212" stroke="none" stroke-width="1" opacity="0.37"/>
<circle cx="237.09" cy="323.34" r="1.06" fill="#d01212" stroke="none" stroke-width="1" opacity="0.60"/>
<circle cx="231.66" cy="362.55" r="0.70" fill="#d01212" stroke="none" stroke-width="1" opacity="0.69"/>
<circle cx="254.21" cy="322.42" r="1.03" fill="#d01212" stroke="none" stroke-width="1" opacity="0.80"/>
<circle cx="244.54" cy="359.45" r="1.11" fill="#d01212" stroke="none" stroke-width="1" opacity="0.52"/>
<circle cx="238.40" cy="321.30" r="0.99" fill="#d01212" stroke="none" stroke-width="1" opacity="0.63"/>
<circle cx="235.59" cy="324.04" r="1.05" fill="#d01212" stroke="none" stroke-width="1" opacity="0.59"/>
<circle cx="245.99" cy="358.96" r="0.85" fill="#d01212" stroke="none" stroke-width="1" opacity="0.76"/>
<circle cx="219.59" cy="341.80" r="0.99" fill="#d01212" stroke="none" stroke-width="1" opacity="0.56"/>
<circle cx="244.27" cy="348.03" r="1.21" fill="#d01212" stroke="none" stroke-width="1" opacity="0.59"/>
<circle cx="222.85" cy="334.96" r="1.15" fill="#d01212" stroke="none" stroke-width="1" opacity="0.46"/>
<circle cx="254.01" cy="359.76" r="0.95" fill="#d01212" stroke="none" stroke-width="1" opacity="0.64"/>
<circle cx="254.48" cy="315.14" r="1.18" fill="#d01212" stroke="none" stroke-width="1" opacity="0.37"/>
<circle cx="224.16" cy="354.81" r="1.15" fill="#d01212" stroke="none" stroke-width="1" opacity="0.41"/>
<circle cx="250.19" cy="349.18" r="0.76" fill="#d01212" stroke="none" stroke-width="1" opacity="0.51"/>
<circle cx="248.89" cy="319.33" r="0.95" fill="#d01212" stroke="none" stroke-width="1" opacity="0.39"/>
<circle cx="220.86" cy="354.54" r="1.08" fill="#d01212" stroke="none" stroke-width="1" opacity="0.55"/>
<circle cx="218.29" cy="341.23" r="1.12" fill="#d01212" stroke="none" stroke-width="1" opacity="0.42"/>
<circle cx="235.41" cy="322.97" r="0.99" fill="#d01212" stroke="none" stroke-width="1" opacity="0.46"/>
<circle cx="231.48" cy="349.46" r="0.91" fill="#d01212" stroke="none" stroke-width="1" opacity="0.36"/>
<circle cx="248.68" cy="357.55" r="0.73" fill="#d01212" stroke="none" stroke-width="1" opacity="0.43"/>
<circle cx="239.59" cy="323.92" r="0.88" fill="#d01212" stroke="none" stroke-width="1" opacity="0.46"/>
<circle cx="246.58" cy="330.81" r="1.05" fill="#d01212" stroke="none" stroke-width="1" opacity="0.74"/>
<circle cx="247.73" cy="354.85" r="1.14" fill="#d01212" stroke="none" stroke-width="1" opacity="0.63"/>
<circle cx="238.47" cy="342.05" r="0.94" fill="#d01212" stroke="none" stroke-width="1" opacity="0.52"/>
<circle cx="238.97" cy="323.52" r="0.92" fill="#d01212" stroke="none" stroke-width="1" opacity="0.64"/>
<circle cx="248.46" cy="322.91" r="0.91" fill="#d01212" stroke="none" stroke-width="1" opacity="0.61"/>
<circle cx="253.05" cy="332.49" r="1.23" fill="#d01212" stroke="none" stroke-width="1" opacity="0.67"/>
<circle cx="226.96" cy="353.91" r="0.88" fill="#d01212" stroke="none" stroke-width="1" opacity="0.38"/>
<circle cx="243.06" cy="321.14" r="0.99" fill="#d01212" stroke="none" stroke-width="1" opacity="0.57"/>
<circle cx="261.73" cy="324.14" r="0.71" fill="#d01212" stroke="none" stroke-width="1" opacity="0.62"/>
<circle cx="224.40" cy="342.25" r="1.16" fill="#d01212" stroke="none" stroke-width="1" opacity="0.54"/>
<circle cx="217.05" cy="342.17" r="0.94" fill="#d01212" stroke="none" stroke-width="1" opacity="0.57"/>
<circle cx="217.73" cy="336.09" r="1.07" fill="#d01212" stroke="none" stroke-width="1" opacity="0.68"/>
<circle cx="237.95" cy="341.11" r="1.07" fill="#d01212" stroke="none" stroke-width="1" opacity="0.60"/>
<circle cx="245.31" cy="314.18" r="0.76" fill="#d01212" stroke="none" stroke-width="1" opacity="0.45"/>
<circle cx="264.24" cy="349.41" r="0.76" fill="#d01212" stroke="none" stroke-width="1" opacity="0.39"/>
<circle cx="242.85" cy="317.45" r="0.73" fill="#d01212" stroke="none" stroke-width="1" opacity="0.66"/>
<circle cx="237.84" cy="319.54" r="0.73" fill="#d01212" stroke="none" stroke-width="1" opacity="0.66"/>
<circle cx="224.30" cy="348.20" r="1.25" fill="#d01212" stroke="none" stroke-width="1" opacity="0.72"/>
<circle cx="249.64" cy="330.43" r="0.88" fill="#d01212" stroke="none" stroke-width="1" opacity="0.58"/>
<circle cx="269.52" cy="338.95" r="0.85" fill="#d01212" stroke="none" stroke-width="1" opacity="0.47"/>
<circle cx="237.11" cy="350.63" r="1.17" fill="#d01212" stroke="none" stroke-width="1" opacity="0.60"/>
<circle cx="224.79" cy="336.71" r="0.73" fill="#d01212" stroke="none" stroke-width="1" opacity="0.49"/>
<circle cx="258.78" cy="319.79" r="1.17" fill="#d01212" stroke="none" stroke-width="1" opacity="0.47"/>
<circle cx="244.27" cy="343.87" r="1.00" fill="#d01212" stroke="none" stroke-width="1" opacity="0.52"/>
<circle cx="223.84" cy="342.17" r="1.02" fill="#d01212" stroke="none" stroke-width="1" opacity="0.51"/>
<circle cx="246.30" cy="326.36" r="1.21" fill="#d01212" stroke="none" stroke-width="1" opacity="0.60"/>
<circle cx="256.93" cy="342.75" r="0.99" fill="#d01212" stroke="none" stroke-width="1" opacity="0.53"/>
<circle cx="228.19" cy="331.77" r="0.85" fill="#d01212" stroke="none" stroke-width="1" opacity="0.71"/>
<circle cx="236.50" cy="360.13" r="1.14" fill="#d01212" stroke="none" stroke-width="1" opacity="0.62"/>
<circle cx="217.13" cy="345.34" r="0.94" fill="#d01212" stroke="none" stroke-width="1" opacity="0.75"/>
<circle cx="259.21" cy="344.29" r="1.05" fill="#d01212" stroke="none" stroke-width="1" opacity="0.37"/>
<circle cx="247.18" cy="332.37" r="1.03" fill="#d01212" stroke="none" stroke-width="1" opacity="0.43"/>
<circle cx="260.47" cy="328.36" r="1.14" fill="#d01212" stroke="none" stroke-width="1" opacity="0.57"/>
<circle cx="232.11" cy="318.04" r="0.86" fill="#d01212" stroke="none" stroke-width="1" opacity="0.44"/>
<circle cx="247.91" cy="329.08" r="1.20" fill="#d01212" stroke="none" stroke-width="1" opacity="0.44"/>
<circle cx="249.21" cy="342.91" r="1.13" fill="#d01212" stroke="none" stroke-width="1" opacity="0.78"/>
<circle cx="223.40" cy="349.23" r="0.84" fill="#d01212" stroke="none" stroke-width="1" opacity="0.76"/>
<circle cx="238.22" cy="328.05" r="0.73" fill="#d01212" stroke="none" stroke-width="1" opacity="0.66"/>
<circle cx="266.50" cy="344.39" r="0.86" fill="#d01212" stroke="none" stroke-width="1" opacity="0.45"/>
<circle cx="229.03" cy="330.34" r="1.01" fill="#d01212" stroke="none" stroke-width="1" opacity="0.42"/>
<circle cx="255.64" cy="329.76" r="1.16" fill="#d01212" stroke="none" stroke-width="1" opacity="0.42"/>
<circle cx="250.66" cy="312.22" r="0.92" fill="#d01212" stroke="none" stroke-width="1" opacity="0.36"/>
<circle cx="226.52" cy="352.87" r="0.82" fill="#d01212" stroke="none" stroke-width="1" opacity="0.60"/>
<circle cx="257.89" cy="348.23" r="1.10" fill="#d01212" stroke="none" stroke-width="1" opacity="0.54"/>
<circle cx="238.44" cy="329.61" r="1.16" fill="#d01212" stroke="none" stroke-width="1" opacity="0.40"/>
<circle cx="266.54" cy="325.32" r="1.22" fill="#d01212" stroke="none" stroke-width="1" opacity="0.59"/>
<circle cx="238.35" cy="353.48" r="1.11" fill="#d01212" stroke="none" stroke-width="1" opacity="0.57"/>
<circle cx="249.94" cy="334.38" r="0.97" fill="#d01212" stroke="none" stroke-width="1" opacity="0.74"/>
<circle cx="226.04" cy="326.37" r="0.75" fill="#d01212" stroke="none" stroke-width="1" opacity="0.41"/>
<circle cx="239.01" cy="363.46" r="1.16" fill="#d01212" stroke="none" stroke-width="1" opacity="0.45"/>
<circle cx="246.79" cy="335.69" r="1.03" fill="#d01212" stroke="none" stroke-width="1" opacity="0.79"/>
<circle cx="227.63" cy="359.90" r="1.06" fill="#d01212" stroke="none" stroke-width="1" opacity="0.37"/>
<circle cx="233.30" cy="353.77" r="0.84" fill="#d01212" stroke="none" stroke-width="1" opacity="0.68"/>
<circle cx="252.89" cy="359.75" r="0.86" fill="#d01212" stroke="none" stroke-width="1" opacity="0.38"/>
<circle cx="234.57" cy="334.86" r="1.00" fill="#d01212" stroke="none" stroke-width="1" opacity="0.70"/>
<circle cx="227.15" cy="327.46" r="0.72" fill="#d01212" stroke="none" stroke-width="1" opacity="0.58"/>
<circle cx="260.39" cy="350.50" r="0.77" fill="#d01212" stroke="none" stroke-width="1" opacity="0.61"/>
<circle cx="232.37" cy="351.25" r="1.06" fill="#d01212" stroke="none" stroke-width="1" opacity="0.42"/>
<circle cx="255.21" cy="361.08" r="0.88" fill="#d01212" stroke="none" stroke-width="1" opacity="0.73"/>
<circle cx="255.65" cy="324.43" r="0.78" fill="#d01212" stroke="none" stroke-width="1" opacity="0.39"/>
<circle cx="249.19" cy="331.50" r="0.97" fill="#d01212" stroke="none" stroke-width="1" opacity="0.59"/>
<circle cx="256.21" cy="350.48" r="0.79" fill="#d01212" stroke="none" stroke-width="1" opacity="0.59"/>
<circle cx="225.92" cy="337.22" r="0.81" fill="#d01212" stroke="none" stroke-width="1" opacity="0.53"/>
<circle cx="245.23" cy="347.23" r="0.83" fill="#d01212" stroke="none" stroke-width="1" opacity="0.74"/>
<circle cx="216.70" cy="337.63" r="0.71" fill="#d01212" stroke="none" stroke-width="1" opacity="0.77"/>
<circle cx="218.24" cy="339.69" r="1.01" fill="#d01212" stroke="none" stroke-width="1" opacity="0.66"/>
<circle cx="245.49" cy="361.34" r="0.78" fill="#d01212" stroke="none" stroke-width="1" opacity="0.47"/>
<circle cx="259.20" cy="341.23" r="0.98" fill="#d01212" stroke="none" stroke-width="1" opacity="0.48"/>
<circle cx="248.54" cy="332.90" r="1.02" fill="#d01212" stroke="none" stroke-width="1" opacity="0.46"/>
<circle cx="222.48" cy="324.32" r="1.09" fill="#d01212" stroke="none" stroke-width="1" opacity="0.38"/>
<circle cx="242.99" cy="359.02" r="1.24" fill="#d01212" stroke="none" stroke-width="1" opacity="0.37"/>
<circle cx="225.72" cy="322.58" r="1.15" fill="#d01212" stroke="none" stroke-width="1" opacity="0.50"/>
<circle cx="249.31" cy="320.72" r="1.21" fill="#d01212" stroke="none" stroke-width="1" opacity="0.35"/>
<circle cx="258.71" cy="331.51" r="0.92" fill="#d01212" stroke="none" stroke-width="1" opacity="0.39"/>
<circle cx="243.18" cy="361.27" r="1.07" fill="#d01212" stroke="none" stroke-width="1" opacity="0.42"/>
<circle cx="236.72" cy="346.40" r="0.81" fill="#d01212" stroke="none" stroke-width="1" opacity="0.45"/>
<circle cx="229.29" cy="361.44" r="1.25" fill="#d01212" stroke="none" stroke-width="1" opacity="0.71"/>
<circle cx="223.35" cy="340.37" r="1.13" fill="#d01212" stroke="none" stroke-width="1" opacity="0.76"/>
<circle cx="242.62" cy="316.18" r="0.81" fill="#d01212" stroke="none" stroke-width="1" opacity="0.63"/>
<circle cx="256.11" cy="317.99" r="0.75" fill="#d01212" stroke="none" stroke-width="1" opacity="0.67"/>
<circle cx="236.01" cy="346.84" r="1.23" fill="#d01212" stroke="none" stroke-width="1" opacity="0.65"/>
<circle cx="242.15" cy="327.91" r="1.16" fill="#d01212" stroke="none" stroke-width="1" opacity="0.77"/>
<circle cx="261.87" cy="324.67" r="1.16" fill="#d01212" stroke="none" stroke-width="1" opacity="0.71"/>
<circle cx="227.26" cy="328.25" r="1.15" fill="#d01212" stroke="none" stroke-width="1" opacity="0.70"/>
<circle cx="252.69" cy="327.11" r="1.23" fill="#d01212" stroke="none" stroke-width="1" opacity="0.59"/>
<circle cx="251.17" cy="334.83" r="1.23" fill="#d01212" stroke="none" stroke-width="1" opacity="0.70"/>
<circle cx="242.11" cy="362.89" r="0.83" fill="#d01212" stroke="none" stroke-width="1" opacity="0.44"/>
<circle cx="229.62" cy="341.39" r="0.97" fill="#d01212" stroke="none" stroke-width="1" opacity="0.76"/>
<circle cx="233.34" cy="316.82" r="0.92" fill="#d01212" stroke="none" stroke-width="1" opacity="0.70"/>
<circle cx="248.53" cy="316.24" r="1.22" fill="#d01212" stroke="none" stroke-width="1" opacity="0.72"/>
<circle cx="235.73" cy="342.40" r="1.06" fill="#d01212" stroke="none" stroke-width="1" opacity="0.73"/>
<circle cx="231.20" cy="355.71" r="1.16" fill="#d01212" stroke="none" stroke-width="1" opacity="0.71"/>
<circle cx="261.48" cy="338.46" r="0.71" fill="#d01212" stroke="none" stroke-width="1" opacity="0.40"/>
<circle cx="249.16" cy="321.62" r="1.03" fill="#d01212" stroke="none" stroke-width="1" opacity="0.56"/>
<circle cx="235.98" cy="348.76" r="0.89" fill="#d01212" stroke="none" stroke-width="1" opacity="0.73"/>
<circle cx="231.64" cy="327.89" r="0.75" fill="#d01212" stroke="none" stroke-width="1" opacity="0.47"/>
<circle cx="236.95" cy="320.64" r="1.06" fill="#d01212" stroke="none" stroke-width="1" opacity="0.71"/>
<circle cx="258.78" cy="353.42" r="0.72" fill="#d01212" stroke="none" stroke-width="1" opacity="0.72"/>
<circle cx="248.14" cy="350.93" r="1.23" fill="#d01212" stroke="none" stroke-width="1" opacity="0.51"/>
<circle cx="246.58" cy="363.31" r="1.04" fill="#d01212" stroke="none" stroke-width="1" opacity="0.75"/>
<circle cx="227.24" cy="349.80" r="1.23" fill="#d01212" stroke="none" stroke-width="1" opacity="0.58"/>
<circle cx="254.26" cy="337.07" r="1.16" fill="#d01212" stroke="none" stroke-width="1" opacity="0.42"/>
<circle cx="241.92" cy="337.84" r="0.80" fill="#d01212" stroke="none" stroke-width="1" opacity="0.78"/>
<circle cx="218.89" cy="344.83" r="0.84" fill="#d01212" stroke="none" stroke-width="1" opacity="0.51"/>
<circle cx="258.76" cy="349.93" r="1.17" fill="#d01212" stroke="none" stroke-width="1" opacity="0.58"/>
<circle cx="223.65" cy="356.31" r="1.19" fill="#d01212" stroke="none" stroke-width="1" opacity="0.65"/>
<circle cx="261.56" cy="347.81" r="0.94" fill="#d01212" stroke="none" stroke-width="1" opacity="0.78"/>
<circle cx="228.10" cy="354.84" r="1.05" fill="#d01212" stroke="none" stroke-width="1" opacity="0.52"/>
<circle cx="220.22" cy="334.81" r="1.20" fill="#d01212" stroke="none" stroke-width="1" opacity="0.57"/>
<circle cx="224.77" cy="358.27" r="0.73" fill="#d01212" stroke="none" stroke-width="1" opacity="0.73"/>
<circle cx="234.17" cy="319.32" r="0.95" fill="#d01212" stroke="none" stroke-width="1" opacity="0.69"/>
<circle cx="260.46" cy="323.21" r="1.11" fill="#d01212" stroke="none" stroke-width="1" opacity="0.37"/>
<circle cx="237.83" cy="346.91" r="1.22" fill="#d01212" stroke="none" stroke-width="1" opacity="0.75"/>
<circle cx="255.28" cy="354.40" r="1.02" fill="#d01212" stroke="none" stroke-width="1" opacity="0.37"/>
<circle cx="224.06" cy="352.69" r="1.05" fill="#d01212" stroke="none" stroke-width="1" opacity="0.48"/>
<circle cx="243.57" cy="323.26" r="1.00" fill="#d01212" stroke="none" stroke-width="1" opacity="0.54"/>
<circle cx="264.18" cy="334.92" r="1.14" fill="#d01212" stroke="none" stroke-width="1" opacity="0.65"/>
<circle cx="222.86" cy="356.18" r="1.09" fill="#d01212" stroke="none" stroke-width="1" opacity="0.66"/>
<circle cx="240.54" cy="348.73" r="1.02" fill="#d01212" stroke="none" stroke-width="1" opacity="0.72"/>
<circle cx="246.78" cy="322.46" r="0.78" fill="#d01212" stroke="none" stroke-width="1" opacity="0.58"/>
<circle cx="250.30" cy="330.28" r="1.11" fill="#d01212" stroke="none" stroke-width="1" opacity="0.43"/>
<circle cx="240.03" cy="343.76" r="0.86" fill="#d01212" stroke="none" stroke-width="1" opacity="0.52"/>
<circle cx="268.59" cy="332.41" r="0.80" fill="#d01212" stroke="none" stroke-width="1" opacity="0.49"/>
<circle cx="253.79" cy="333.73" r="0.88" fill="#d01212" stroke="none" stroke-width="1" opacity="0.55"/>
<circle cx="253.23" cy="346.68" r="0.92" fill="#d01212" stroke="none" stroke-width="1" opacity="0.52"/>
<circle cx="256.14" cy="334.73" r="0.81" fill="#d01212" stroke="none" stroke-width="1" opacity="0.76"/>
<circle cx="218.69" cy="345.60" r="1.05" fill="#d01212" stroke="none" stroke-width="1" opacity="0.70"/>
<circle cx="238.22" cy="347.69" r="1.12" fill="#d01212" stroke="none" stroke-width="1" opacity="0.56"/>
<circle cx="221.60" cy="329.87" r="1.11" fill="#d01212" stroke="none" stroke-width="1" opacity="0.47"/>
<circle cx="225.43" cy="357.76" r="0.99" fill="#d01212" stroke="none" stroke-width="1" opacity="0.48"/>
<circle cx="232.93" cy="327.78" r="1.12" fill="#d01212" stroke="none" stroke-width="1" opacity="0.37"/>
<circle cx="251.93" cy="319.74" r="0.89" fill="#d01212" stroke="none" stroke-width="1" opacity="0.77"/>
<circle cx="241.12" cy="351.31" r="0.74" fill="#d01212" stroke="none" stroke-width="1" opacity="0.60"/>
<circle cx="242.95" cy="315.48" r="0.93" fill="#d01212" stroke="none" stroke-width="1" opacity="0.71"/>
<circle cx="253.99" cy="347.65" r="1.05" fill="#d01212" stroke="none" stroke-width="1" opacity="0.79"/>
<circle cx="227.31" cy="321.01" r="1.13" fill="#d01212" stroke="none" stroke-width="1" opacity="0.53"/>
<circle cx="264.29" cy="329.33" r="0.89" fill="#d01212" stroke="none" stroke-width="1" opacity="0.53"/>
<circle cx="247.96" cy="322.78" r="0.80" fill="#d01212" stroke="none" stroke-width="1" opacity="0.74"/>
<circle cx="223.13" cy="334.02" r="1.07" fill="#d01212" stroke="none" stroke-width="1" opacity="0.76"/>
<circle cx="253.03" cy="349.73" r="0.74" fill="#d01212" stroke="none" stroke-width="1" opacity="0.54"/>
<circle cx="217.26" cy="337.59" r="1.07" fill="#d01212" stroke="none" stroke-width="1" opacity="0.61"/>
<circle cx="225.44" cy="349.67" r="0.85" fill="#d01212" stroke="none" stroke-width="1" opacity="0.73"/>
<circle cx="248.40" cy="313.69" r="0.78" fill="#d01212" stroke="none" stroke-width="1" opacity="0.65"/>
<circle cx="242.92" cy="318.64" r="1.19" fill="#d01212" stroke="none" stroke-width="1" opacity="0.75"/>
<circle cx="241.34" cy="313.24" r="1.06" fill="#d01212" stroke="none" stroke-width="1" opacity="0.75"/>
<circle cx="257.95" cy="354.73" r="1.09" fill="#d01212" stroke="none" stroke-width="1" opacity="0.63"/>
<circle cx="241.32" cy="344.91" r="1.03" fill="#d01212" stroke="none" stroke-width="1" opacity="0.72"/>
<circle cx="240.61" cy="350.38" r="0.82" fill="#d01212" stroke="none" stroke-width="1" opacity="0.39"/>
<circle cx="230.36" cy="313.86" r="1.14" fill="#d01212" stroke="none" stroke-width="1" opacity="0.51"/>
<circle cx="240.14" cy="330.97" r="1.16" fill="#d01212" stroke="none" stroke-width="1" opacity="0.50"/>
<circle cx="264.05" cy="338.39" r="0.78" fill="#d01212" stroke="none" stroke-width="1" opacity="0.47"/>
<circle cx="259.39" cy="344.53" r="1.01" fill="#d01212" stroke="none" stroke-width="1" opacity="0.71"/>
<circle cx="266.46" cy="344.03" r="0.76" fill="#d01212" stroke="none" stroke-width="1" opacity="0.45"/>
<circle cx="231.50" cy="326.37" r="0.88" fill="#d01212" stroke="none" stroke-width="1" opacity="0.61"/>
<circle cx="247.30" cy="361.72" r="0.81" fill="#d01212" stroke="none" stroke-width="1" opacity="0.73"/>
<circle cx="249.63" cy="319.29" r="0.72" fill="#d01212" stroke="none" stroke-width="1" opacity="0.70"/>
<circle cx="261.49" cy="341.36" r="0.93" fill="#d01212" stroke="none" stroke-width="1" opacity="0.38"/>
<circle cx="226.54" cy="321.01" r="1.02" fill="#d01212" stroke="none" stroke-width="1" opacity="0.53"/>
<circle cx="221.56" cy="336.34" r="0.82" fill="#d01212" stroke="none" stroke-width="1" opacity="0.74"/>
<circle cx="266.87" cy="337.26" r="1.23" fill="#d01212" stroke="none" stroke-width="1" opacity="0.50"/>
<circle cx="249.68" cy="337.30" r="0.96" fill="#d01212" stroke="none" stroke-width="1" opacity="0.41"/>
<circle cx="220.83" cy="344.35" r="1.09" fill="#d01212" stroke="none" stroke-width="1" opacity="0.55"/>
<circle cx="235.95" cy="347.89" r="0.92" fill="#d01212" stroke="none" stroke-width="1" opacity="0.48"/>
<circle cx="250.46" cy="359.89" r="0.98" fill="#d01212" stroke="none" stroke-width="1" opacity="0.55"/>
<circle cx="249.81" cy="359.57" r="0.81" fill="#d01212" stroke="none" stroke-width="1" opacity="0.47"/>
<circle cx="221.21" cy="329.48" r="1.24" fill="#d01212" stroke="none" stroke-width="1" opacity="0.69"/>
<circle cx="267.21" cy="329.58" r="1.10" fill="#d01212" stroke="none" stroke-width="1" opacity="0.67"/>
<circle cx="253.84" cy="342.67" r="0.71" fill="#d01212" stroke="none" stroke-width="1" opacity="0.74"/>
<circle cx="238.63" cy="316.62" r="0.85" fill="#d01212" stroke="none" stroke-width="1" opacity="0.51"/>
<circle cx="253.62" cy="356.49" r="1.25" fill="#d01212" stroke="none" stroke-width="1" opacity="0.49"/>
<circle cx="253.40" cy="341.06" r="0.90" fill="#d01212" stroke="none" stroke-width="1" opacity="0.75"/>
<circle cx="248.60" cy="320.60" r="0.76" fill="#d01212" stroke="none" stroke-width="1" opacity="0.40"/>
<circle cx="256.08" cy="357.71" r="0.96" fill="#d01212" stroke="none" stroke-width="1" opacity="0.80"/>
<text x="214.25" y="255.90" font-size="7" text-anchor="start" fill="#e0e0e0" font-weight="bold">78</text>
<text x="214.25" y="315.25" font-size="7" text-anchor="start" fill="#e0e0e0" font-weight="bold">260</text>
<text x="296.30" y="220.80" font-size="15" text-anchor="start" font-weight="bold" fill="#111" >c</text>
<line x1="330.30" y1="243.30" x2="330.30" y2="362.80" stroke="#222" stroke-width="1" />
<line x1="330.30" y1="362.30" x2="409.60" y2="362.30" stroke="#222" stroke-width="1" />
<line x1="326.00" y1="362.30" x2="330.30" y2="362.30" stroke="#222" stroke-width="1" />
<text x="324.50" y="365.90" font-size="10" text-anchor="end" fill="#222" >0</text>
<line x1="326.00" y1="322.80" x2="330.30" y2="322.80" stroke="#222" stroke-width="1" />
<text x="324.50" y="326.40" font-size="10" text-anchor="end" fill="#222" >10</text>
<line x1="326.00" y1="283.30" x2="330.30" y2="283.30" stroke="#222" stroke-width="1" />
<text x="324.50" y="286.90" font-size="10" text-anchor="end" fill="#222" >20</text>
<line x1="326.00" y1="243.80" x2="330.30" y2="243.80" stroke="#222" stroke-width="1" />
<text x="324.50" y="247.40" font-size="10" text-anchor="end" fill="#222" >30</text>
<text x="304.40" y="295.50" font-size="11" text-anchor="middle" fill="#222" transform="rotate(-90 304.40 295.50)" dy="0.35em">IL-2 SFU/million PBMC</text>
<rect x="342.20" y="342.55" width="22.40" height="19.75" fill="#fff" stroke="#222" stroke-width="0.9" />
<line x1="353.40" y1="362.30" x2="353.40" y2="366.90" stroke="#222" stroke-width="1" />
<line x1="353.40" y1="298.31" x2="353.40" y2="362.30" stroke="#222" stroke-width="1" />
<line x1="347.40" y1="298.31" x2="359.40" y2="298.31" stroke="#222" stroke-width="1" />
<line x1="347.40" y1="320.43" x2="359.40" y2="320.43" stroke="#222" stroke-width="1" />
<line x1="347.40" y1="342.55" x2="359.40" y2="342.55" stroke="#222" stroke-width="1" />
<rect x="376.40" y="340.18" width="22.40" height="22.12" fill="#000" stroke="#222" stroke-width="0.9" />
<rect x="376.40" y="325.56" width="22.40" height="14.62" fill="#fff" stroke="#222" stroke-width="0.9" />
<rect x="376.40" y="295.94" width="22.40" height="29.62" fill="#a9a9a9" stroke="#222" stroke-width="0.9" />
<line x1="387.60" y1="362.30" x2="387.60" y2="366.90" stroke="#222" stroke-width="1" />
<line x1="387.60" y1="277.38" x2="387.60" y2="362.30" stroke="#222" stroke-width="1" />
<line x1="381.60" y1="277.38" x2="393.60" y2="277.38" stroke="#222" stroke-width="1" />
<line x1="381.60" y1="288.44" x2="393.60" y2="288.44" stroke="#222" stroke-width="1" />
<line x1="381.60" y1="315.69" x2="393.60" y2="315.69" stroke="#222" stroke-width="1" />
<text x="367.80" y="224.60" font-size="9.5" text-anchor="middle" fill="#333" >ns</text>
<line x1="348.80" y1="227.90" x2="387.20" y2="227.90" stroke="#999" stroke-width="1.3" />
<text x="354.30" y="380.20" font-size="11" text-anchor="middle" fill="#222" >Inf.</text>
<text x="388.30" y="380.20" font-size="11" text-anchor="middle" fill="#222" >Uninf.</text>
<circle cx="352.50" cy="252.50" r="11.35" fill="none" stroke="#000" stroke-width="7.9" />
<path d="M352.50,237.80 A14.70,14.70 0 0 0 337.86,251.22 L344.53,251.80 A8.00,8.00 0 0 1 352.50,244.50 Z" fill="#fff"/>
<line x1="352.50" y1="245.10" x2="352.50" y2="237.20" stroke="#000" stroke-width="0.8" />
<line x1="345.13" y1="251.86" x2="337.26" y2="251.17" stroke="#000" stroke-width="0.8" />
<circle cx="387.40" cy="252.50" r="11.35" fill="none" stroke="#000" stroke-width="7.9" />
<path d="M387.40,237.80 A14.70,14.70 0 0 0 375.66,243.65 L381.01,247.69 A8.00,8.00 0 0 1 387.40,244.50 Z" fill="#fff"/>
<line x1="387.40" y1="245.10" x2="387.40" y2="237.20" stroke="#000" stroke-width="0.8" />
<line x1="381.49" y1="248.05" x2="375.18" y2="243.29" stroke="#000" stroke-width="0.8" />
<line x1="462.10" y1="243.30" x2="462.10" y2="362.80" stroke="#222" stroke-width="1" />
<line x1="462.10" y1="362.30" x2="541.40" y2="362.30" stroke="#222" stroke-width="1" />
<line x1="457.80" y1="362.30" x2="462.10" y2="362.30" stroke="#222" stroke-width="1" />
<text x="456.30" y="365.90" font-size="10" text-anchor="end" fill="#222" >0</text>
<line x1="457.80" y1="322.80" x2="462.10" y2="322.80" stroke="#222" stroke-width="1" />
<text x="456.30" y="326.40" font-size="10" text-anchor="end" fill="#222" >20</text>
<line x1="457.80" y1="283.30" x2="462.10" y2="283.30" stroke="#222" stroke-width="1" />
<text x="456.30" y="286.90" font-size="10" text-anchor="end" fill="#222" >40</text>
<line x1="457.80" y1="243.80" x2="462.10" y2="243.80" stroke="#222" stroke-width="1" />
<text x="456.30" y="247.40" font-size="10" text-anchor="end" fill="#222" >60</text>
<text x="436.50" y="297.20" font-size="11" text-anchor="middle" fill="#222" transform="rotate(-90 436.50 297.20)" dy="0.35em">IFNγ SFU/million PBMC</text>
<rect x="474.10" y="352.43" width="22.40" height="9.88" fill="#fff" stroke="#222" stroke-width="0.9" />
<rect x="474.10" y="337.22" width="22.40" height="15.21" fill="#a9a9a9" stroke="#222" stroke-width="0.9" />
<line x1="485.30" y1="362.30" x2="485.30" y2="366.90" stroke="#222" stroke-width="1" />
<line x1="485.30" y1="299.10" x2="485.30" y2="362.30" stroke="#6a6a6a" stroke-width="1.4" />
<line x1="479.30" y1="299.10" x2="491.30" y2="299.10" stroke="#222" stroke-width="1" />
<line x1="479.30" y1="336.62" x2="491.30" y2="336.62" stroke="#222" stroke-width="1" />
<line x1="479.30" y1="360.32" x2="491.30" y2="360.32" stroke="#222" stroke-width="1" />
<rect x="507.90" y="359.54" width="22.40" height="2.76" fill="#000" stroke="#222" stroke-width="0.9" />
<rect x="507.90" y="349.26" width="22.40" height="10.27" fill="#fff" stroke="#222" stroke-width="0.9" />
<rect x="507.90" y="333.47" width="22.40" height="15.80" fill="#a9a9a9" stroke="#222" stroke-width="0.9" />
<line x1="519.10" y1="362.30" x2="519.10" y2="366.90" stroke="#222" stroke-width="1" />
<line x1="519.10" y1="297.12" x2="519.10" y2="362.30" stroke="#6a6a6a" stroke-width="1.4" />
<line x1="513.10" y1="297.12" x2="525.10" y2="297.12" stroke="#222" stroke-width="1" />
<line x1="513.10" y1="330.31" x2="525.10" y2="330.31" stroke="#222" stroke-width="1" />
<line x1="513.10" y1="352.43" x2="525.10" y2="352.43" stroke="#222" stroke-width="1" />
<text x="498.60" y="224.60" font-size="9.5" text-anchor="middle" fill="#333" >ns</text>
<line x1="480.20" y1="228.10" x2="517.70" y2="228.10" stroke="#999" stroke-width="1.3" />
<text x="486.10" y="380.20" font-size="11" text-anchor="middle" fill="#222" >Inf.</text>
<text x="520.10" y="380.20" font-size="11" text-anchor="middle" fill="#222" >Uninf.</text>
<circle cx="483.60" cy="252.60" r="11.35" fill="none" stroke="#000" stroke-width="7.9" />
<path d="M483.60,237.90 A14.70,14.70 0 0 0 468.94,251.57 L475.62,252.04 A8.00,8.00 0 0 1 483.60,244.60 Z" fill="#fff"/>
<line x1="483.60" y1="245.20" x2="483.60" y2="237.30" stroke="#000" stroke-width="0.8" />
<line x1="476.22" y1="252.08" x2="468.34" y2="251.53" stroke="#000" stroke-width="0.8" />
<circle cx="519.80" cy="252.60" r="11.35" fill="none" stroke="#000" stroke-width="7.9" />
<path d="M519.80,237.90 A14.70,14.70 0 0 0 513.82,266.03 L516.55,259.91 A8.00,8.00 0 0 1 519.80,244.60 Z" fill="#fff"/>
<line x1="519.80" y1="245.20" x2="519.80" y2="237.30" stroke="#000" stroke-width="0.8" />
<line x1="516.79" y1="259.36" x2="513.58" y2="266.58" stroke="#000" stroke-width="0.8" />
<line x1="592.00" y1="243.30" x2="592.00" y2="362.80" stroke="#222" stroke-width="1" />
<line x1="592.00" y1="362.30" x2="671.30" y2="362.30" stroke="#222" stroke-width="1" />
<line x1="587.70" y1="362.30" x2="592.00" y2="362.30" stroke="#222" stroke-width="1" />
<text x="586.20" y="365.90" font-size="10" text-anchor="end" fill="#222" >0</text>
<line x1="587.70" y1="322.80" x2="592.00" y2="322.80" stroke="#222" stroke-width="1" />
<text x="586.20" y="326.40" font-size="10" text-anchor="end" fill="#222" >10</text>
<line x1="587.70" y1="283.30" x2="592.00" y2="283.30" stroke="#222" stroke-width="1" />
<text x="586.20" y="286.90" font-size="10" text-anchor="end" fill="#222" >20</text>
<line x1="587.70" y1="243.80" x2="592.00" y2="243.80" stroke="#222" stroke-width="1" />
<text x="586.20" y="247.40" font-size="10" text-anchor="end" fill="#222" >30</text>
<text x="565.60" y="295.50" font-size="11" text-anchor="middle" fill="#222" transform="rotate(-90 565.60 295.50)" dy="0.35em">IFNγ IL-2 SFU/million PBMC</text>
<rect x="603.40" y="357.95" width="22.40" height="4.35" fill="#000" stroke="#222" stroke-width="0.9" />
<rect x="603.40" y="352.43" width="22.40" height="5.53" fill="#fff" stroke="#222" stroke-width="0.9" />
<rect x="603.40" y="345.71" width="22.40" height="6.71" fill="#a9a9a9" stroke="#222" stroke-width="0.9" />
<line x1="614.60" y1="362.30" x2="614.60" y2="366.90" stroke="#222" stroke-width="1" />
<line x1="614.60" y1="335.44" x2="614.60" y2="362.30" stroke="#222" stroke-width="1" />
<line x1="608.60" y1="335.44" x2="620.60" y2="335.44" stroke="#222" stroke-width="1" />
<line x1="608.60" y1="349.66" x2="620.60" y2="349.66" stroke="#222" stroke-width="1" />
<line x1="608.60" y1="355.59" x2="620.60" y2="355.59" stroke="#222" stroke-width="1" />
<rect x="637.90" y="357.56" width="22.40" height="4.74" fill="#000" stroke="#222" stroke-width="0.9" />
<rect x="637.90" y="346.50" width="22.40" height="11.06" fill="#fff" stroke="#222" stroke-width="0.9" />
<rect x="637.90" y="339.79" width="22.40" height="6.71" fill="#a9a9a9" stroke="#222" stroke-width="0.9" />
<line x1="649.10" y1="362.30" x2="649.10" y2="366.90" stroke="#222" stroke-width="1" />
<line x1="649.10" y1="331.10" x2="649.10" y2="362.30" stroke="#222" stroke-width="1" />
<line x1="643.10" y1="331.10" x2="655.10" y2="331.10" stroke="#222" stroke-width="1" />
<line x1="643.10" y1="354.40" x2="655.10" y2="354.40" stroke="#222" stroke-width="1" />
<text x="628.00" y="224.60" font-size="9.5" text-anchor="middle" fill="#333" >ns</text>
<line x1="609.10" y1="228.90" x2="647.40" y2="228.90" stroke="#999" stroke-width="1.3" />
<text x="616.00" y="380.20" font-size="11" text-anchor="middle" fill="#222" >Inf.</text>
<text x="650.00" y="380.20" font-size="11" text-anchor="middle" fill="#222" >Uninf.</text>
<rect x="605.50" y="241.00" width="12.50" height="7.00" fill="#000" stroke="#111" stroke-width="1" />
<text x="625.60" y="248.30" font-size="11" text-anchor="start" fill="#222" >NSP7</text>
<rect x="605.50" y="257.70" width="12.50" height="7.00" fill="#fff" stroke="#111" stroke-width="1" />
<text x="625.60" y="265.00" font-size="11" text-anchor="start" fill="#222" >NSP12</text>
<rect x="605.50" y="274.20" width="12.50" height="7.00" fill="#a9a9a9" stroke="#111" stroke-width="1" />
<text x="625.60" y="281.50" font-size="11" text-anchor="start" fill="#222" >NSP13</text>
<text x="-0.50" y="406.60" font-size="15" text-anchor="start" font-weight="bold" fill="#111" >d</text>
<circle cx="58.80" cy="424.70" r="1.40" fill="none" stroke="#f2492f" stroke-width="0.9" />
<path d="M57.2,446.2 L58.8,443.3 L60.4,446.2 Z" fill="none" stroke="#9a9a9a" stroke-width="0.8"/>
<rect x="57.30" y="461.90" width="3.00" height="3.00" fill="none" stroke="#3152ec" stroke-width="0.9" />
<text x="68.70" y="429.50" font-size="11" text-anchor="start" fill="#222" >Infected</text>
<text x="68.70" y="447.90" font-size="11" text-anchor="start" fill="#222" >Transient</text>
<text x="69.80" y="466.90" font-size="11" text-anchor="start" fill="#222" >Uninfected</text>
<line x1="65.70" y1="497.00" x2="65.70" y2="647.90" stroke="#333" stroke-width="1" />
<line x1="65.20" y1="647.40" x2="213.60" y2="647.40" stroke="#333" stroke-width="1" />
<line x1="59.70" y1="497.40" x2="65.70" y2="497.40" stroke="#333" stroke-width="1" />
<text x="57.00" y="501.30" font-size="11" text-anchor="end" fill="#222" >1000</text>
<line x1="59.70" y1="547.40" x2="65.70" y2="547.40" stroke="#333" stroke-width="1" />
<text x="57.00" y="551.30" font-size="11" text-anchor="end" fill="#222" >100</text>
<line x1="59.70" y1="597.40" x2="65.70" y2="597.40" stroke="#333" stroke-width="1" />
<text x="57.00" y="601.30" font-size="11" text-anchor="end" fill="#222" >10</text>
<line x1="59.70" y1="647.40" x2="65.70" y2="647.40" stroke="#333" stroke-width="1" />
<text x="57.00" y="651.30" font-size="11" text-anchor="end" fill="#222" >1</text>
<text x="9.8" y="570.0" font-size="10" text-anchor="middle" fill="#222" transform="rotate(-90 9.8 570.0)" dy="0.35em">Sum of RTC pools</text>
<text x="24.8" y="573.2" font-size="10" text-anchor="middle" fill="#222" transform="rotate(-90 24.8 573.2)" dy="0.35em">IL-2 SFU/million PBMC</text>
<line x1="80.50" y1="647.40" x2="80.50" y2="652.60" stroke="#333" stroke-width="1" />
<text x="80.50" y="666.80" font-size="10" text-anchor="middle" fill="#222" >-1</text>
<line x1="102.40" y1="647.40" x2="102.40" y2="652.60" stroke="#333" stroke-width="1" />
<text x="102.40" y="666.80" font-size="10" text-anchor="middle" fill="#222" >14</text>
<line x1="124.70" y1="647.40" x2="124.70" y2="652.60" stroke="#333" stroke-width="1" />
<text x="124.70" y="666.80" font-size="10" text-anchor="middle" fill="#222" >28</text>
<line x1="154.30" y1="647.40" x2="154.30" y2="652.60" stroke="#333" stroke-width="1" />
<text x="154.30" y="666.80" font-size="10" text-anchor="middle" fill="#222" >-1</text>
<line x1="176.40" y1="647.40" x2="176.40" y2="652.60" stroke="#333" stroke-width="1" />
<text x="176.40" y="666.80" font-size="10" text-anchor="middle" fill="#222" >14</text>
<line x1="198.30" y1="647.40" x2="198.30" y2="652.60" stroke="#333" stroke-width="1" />
<text x="198.30" y="666.80" font-size="10" text-anchor="middle" fill="#222" >28</text>
<text x="129.80" y="684.70" font-size="9.7" text-anchor="middle" fill="#222" >Day post-inoculation</text>
<line x1="102.30" y1="504.00" x2="176.70" y2="504.00" stroke="#8a8a8a" stroke-width="1.3" />
<line x1="102.30" y1="520.30" x2="125.10" y2="520.30" stroke="#555" stroke-width="1.3" />
<line x1="154.10" y1="530.20" x2="198.70" y2="530.20" stroke="#555" stroke-width="1.3" />
<text x="139.70" y="503.10" font-size="15" text-anchor="middle" font-weight="bold" fill="#111" >*</text>
<text x="114.00" y="519.80" font-size="15" text-anchor="middle" font-weight="bold" fill="#111" >**</text>
<text x="176.40" y="529.20" font-size="15" text-anchor="middle" font-weight="bold" fill="#111" >*</text>
<line x1="80.50" y1="548.90" x2="80.50" y2="569.90" stroke="#f2492f" stroke-width="1" />
<line x1="80.50" y1="628.30" x2="80.50" y2="647.40" stroke="#f2492f" stroke-width="1" />
<line x1="77.50" y1="548.90" x2="83.50" y2="548.90" stroke="#f2492f" stroke-width="1" />
<rect x="73.40" y="569.90" width="14.20" height="58.40" fill="none" stroke="#f2492f" stroke-width="1" />
<line x1="73.40" y1="597.80" x2="87.60" y2="597.80" stroke="#f2492f" stroke-width="1" />
<circle cx="80.50" cy="548.90" r="1.45" fill="none" stroke="#f2492f" stroke-width="0.9" />
<circle cx="74.50" cy="566.40" r="1.45" fill="none" stroke="#f2492f" stroke-width="0.9" />
<circle cx="80.50" cy="567.80" r="1.45" fill="none" stroke="#f2492f" stroke-width="0.9" />
<circle cx="80.50" cy="571.40" r="1.45" fill="none" stroke="#f2492f" stroke-width="0.9" />
<circle cx="80.50" cy="582.70" r="1.45" fill="none" stroke="#f2492f" stroke-width="0.9" />
<circle cx="80.50" cy="587.30" r="1.45" fill="none" stroke="#f2492f" stroke-width="0.9" />
<circle cx="80.50" cy="597.70" r="1.45" fill="none" stroke="#f2492f" stroke-width="0.9" />
<circle cx="80.50" cy="612.60" r="1.45" fill="none" stroke="#f2492f" stroke-width="0.9" />
<circle cx="77.50" cy="618.60" r="1.45" fill="none" stroke="#f2492f" stroke-width="0.9" />
<circle cx="83.50" cy="618.60" r="1.45" fill="none" stroke="#f2492f" stroke-width="0.9" />
<circle cx="74.50" cy="647.40" r="1.45" fill="none" stroke="#f2492f" stroke-width="0.9" />
<circle cx="80.50" cy="647.40" r="1.45" fill="none" stroke="#f2492f" stroke-width="0.9" />
<circle cx="86.50" cy="647.40" r="1.45" fill="none" stroke="#f2492f" stroke-width="0.9" />
<line x1="102.60" y1="533.30" x2="102.60" y2="559.20" stroke="#f2492f" stroke-width="1" />
<line x1="102.60" y1="582.30" x2="102.60" y2="593.10" stroke="#f2492f" stroke-width="1" />
<line x1="99.60" y1="533.30" x2="105.60" y2="533.30" stroke="#f2492f" stroke-width="1" />
<rect x="95.40" y="559.20" width="14.40" height="23.10" fill="none" stroke="#f2492f" stroke-width="1" />
<line x1="95.40" y1="568.80" x2="109.80" y2="568.80" stroke="#f2492f" stroke-width="1" />
<circle cx="102.40" cy="533.30" r="1.45" fill="none" stroke="#f2492f" stroke-width="0.9" />
<circle cx="102.40" cy="555.40" r="1.45" fill="none" stroke="#f2492f" stroke-width="0.9" />
<circle cx="99.40" cy="558.20" r="1.45" fill="none" stroke="#f2492f" stroke-width="0.9" />
<circle cx="105.80" cy="558.20" r="1.45" fill="none" stroke="#f2492f" stroke-width="0.9" />
<circle cx="99.80" cy="566.20" r="1.45" fill="none" stroke="#f2492f" stroke-width="0.9" />
<circle cx="105.80" cy="568.80" r="1.45" fill="none" stroke="#f2492f" stroke-width="0.9" />
<circle cx="99.80" cy="572.20" r="1.45" fill="none" stroke="#f2492f" stroke-width="0.9" />
<circle cx="105.80" cy="573.80" r="1.45" fill="none" stroke="#f2492f" stroke-width="0.9" />
<circle cx="99.80" cy="583.10" r="1.45" fill="none" stroke="#f2492f" stroke-width="0.9" />
<circle cx="105.80" cy="585.70" r="1.45" fill="none" stroke="#f2492f" stroke-width="0.9" />
<circle cx="102.40" cy="593.10" r="1.45" fill="none" stroke="#f2492f" stroke-width="0.9" />
<line x1="124.70" y1="593.10" x2="124.70" y2="601.20" stroke="#f2492f" stroke-width="1" />
<line x1="124.70" y1="647.40" x2="124.70" y2="647.40" stroke="#f2492f" stroke-width="1" />
<line x1="121.70" y1="593.10" x2="127.70" y2="593.10" stroke="#f2492f" stroke-width="1" />
<rect x="117.70" y="601.20" width="14.00" height="46.20" fill="none" stroke="#f2492f" stroke-width="1" />
<line x1="117.70" y1="647.40" x2="131.70" y2="647.40" stroke="#f2492f" stroke-width="1" />
<circle cx="124.70" cy="593.10" r="1.45" fill="none" stroke="#f2492f" stroke-width="0.9" />
<circle cx="124.70" cy="612.60" r="1.45" fill="none" stroke="#f2492f" stroke-width="0.9" />
<circle cx="118.70" cy="647.40" r="1.45" fill="none" stroke="#f2492f" stroke-width="0.9" />
<circle cx="124.70" cy="647.40" r="1.45" fill="none" stroke="#f2492f" stroke-width="0.9" />
<circle cx="130.70" cy="647.40" r="1.45" fill="none" stroke="#f2492f" stroke-width="0.9" />
<line x1="154.40" y1="556.40" x2="154.40" y2="569.20" stroke="#3152ec" stroke-width="1" />
<line x1="154.40" y1="605.60" x2="154.40" y2="647.40" stroke="#3152ec" stroke-width="1" />
<line x1="151.40" y1="556.40" x2="157.40" y2="556.40" stroke="#3152ec" stroke-width="1" />
<rect x="147.30" y="569.20" width="14.20" height="36.40" fill="none" stroke="#3152ec" stroke-width="1" />
<line x1="147.30" y1="582.30" x2="161.50" y2="582.30" stroke="#3152ec" stroke-width="1" />
<rect x="152.80" y="555.30" width="3.00" height="3.00" fill="none" stroke="#3152ec" stroke-width="0.9" />
<rect x="152.80" y="559.30" width="3.00" height="3.00" fill="none" stroke="#3152ec" stroke-width="0.9" />
<rect x="152.80" y="576.20" width="3.00" height="3.00" fill="none" stroke="#3152ec" stroke-width="0.9" />
<rect x="146.80" y="580.20" width="3.00" height="3.00" fill="none" stroke="#3152ec" stroke-width="0.9" />
<rect x="152.80" y="581.40" width="3.00" height="3.00" fill="none" stroke="#3152ec" stroke-width="0.9" />
<rect x="152.80" y="587.40" width="3.00" height="3.00" fill="none" stroke="#3152ec" stroke-width="0.9" />
<rect x="152.80" y="602.10" width="3.00" height="3.00" fill="none" stroke="#3152ec" stroke-width="0.9" />
<rect x="152.80" y="611.30" width="3.00" height="3.00" fill="none" stroke="#3152ec" stroke-width="0.9" />
<rect x="155.80" y="646.10" width="3.00" height="3.00" fill="none" stroke="#3152ec" stroke-width="0.9" />
<path d="M146.70,569.90 L148.30,567.00 L149.90,569.90 Z" fill="none" stroke="#9a9a9a" stroke-width="0.8"/>
<path d="M158.70,568.70 L160.30,565.80 L161.90,568.70 Z" fill="none" stroke="#9a9a9a" stroke-width="0.8"/>
<path d="M152.70,599.40 L154.30,596.50 L155.90,599.40 Z" fill="none" stroke="#9a9a9a" stroke-width="0.8"/>
<path d="M149.70,648.70 L151.30,645.80 L152.90,648.70 Z" fill="none" stroke="#9a9a9a" stroke-width="0.8"/>
<line x1="176.40" y1="571.40" x2="176.40" y2="582.70" stroke="#3152ec" stroke-width="1" />
<line x1="176.40" y1="647.40" x2="176.40" y2="647.40" stroke="#3152ec" stroke-width="1" />
<line x1="173.40" y1="571.40" x2="179.40" y2="571.40" stroke="#3152ec" stroke-width="1" />
<rect x="169.40" y="582.70" width="14.00" height="64.70" fill="none" stroke="#3152ec" stroke-width="1" />
<line x1="169.40" y1="590.70" x2="183.40" y2="590.70" stroke="#3152ec" stroke-width="1" />
<rect x="174.90" y="569.90" width="3.00" height="3.00" fill="none" stroke="#3152ec" stroke-width="0.9" />
<rect x="176.50" y="576.40" width="3.00" height="3.00" fill="none" stroke="#3152ec" stroke-width="0.9" />
<rect x="172.70" y="578.20" width="3.00" height="3.00" fill="none" stroke="#3152ec" stroke-width="0.9" />
<rect x="172.70" y="584.20" width="3.00" height="3.00" fill="none" stroke="#3152ec" stroke-width="0.9" />
<rect x="176.50" y="582.60" width="3.00" height="3.00" fill="none" stroke="#3152ec" stroke-width="0.9" />
<rect x="172.70" y="589.20" width="3.00" height="3.00" fill="none" stroke="#3152ec" stroke-width="0.9" />
<rect x="174.90" y="589.20" width="3.00" height="3.00" fill="none" stroke="#3152ec" stroke-width="0.9" />
<rect x="172.70" y="646.10" width="3.00" height="3.00" fill="none" stroke="#3152ec" stroke-width="0.9" />
<rect x="174.90" y="646.10" width="3.00" height="3.00" fill="none" stroke="#3152ec" stroke-width="0.9" />
<rect x="177.90" y="646.10" width="3.00" height="3.00" fill="none" stroke="#3152ec" stroke-width="0.9" />
<rect x="180.70" y="646.10" width="3.00" height="3.00" fill="none" stroke="#3152ec" stroke-width="0.9" />
<path d="M176.40,590.60 L178.00,587.70 L179.60,590.60 Z" fill="none" stroke="#9a9a9a" stroke-width="0.8"/>
<path d="M176.40,594.60 L178.00,591.70 L179.60,594.60 Z" fill="none" stroke="#9a9a9a" stroke-width="0.8"/>
<path d="M174.80,629.40 L176.40,626.50 L178.00,629.40 Z" fill="none" stroke="#9a9a9a" stroke-width="0.8"/>
<path d="M169.60,648.70 L171.20,645.80 L172.80,648.70 Z" fill="none" stroke="#9a9a9a" stroke-width="0.8"/>
<line x1="198.50" y1="588.90" x2="198.50" y2="618.20" stroke="#3152ec" stroke-width="1" />
<line x1="198.50" y1="647.40" x2="198.50" y2="647.40" stroke="#3152ec" stroke-width="1" />
<line x1="195.50" y1="588.90" x2="201.50" y2="588.90" stroke="#3152ec" stroke-width="1" />
<rect x="191.30" y="618.20" width="14.40" height="29.20" fill="none" stroke="#3152ec" stroke-width="1" />
<line x1="191.30" y1="647.40" x2="205.70" y2="647.40" stroke="#3152ec" stroke-width="1" />
<rect x="196.80" y="587.40" width="3.00" height="3.00" fill="none" stroke="#3152ec" stroke-width="0.9" />
<rect x="196.80" y="611.10" width="3.00" height="3.00" fill="none" stroke="#3152ec" stroke-width="0.9" />
<rect x="191.20" y="646.10" width="3.00" height="3.00" fill="none" stroke="#3152ec" stroke-width="0.9" />
<rect x="194.20" y="646.10" width="3.00" height="3.00" fill="none" stroke="#3152ec" stroke-width="0.9" />
<rect x="196.80" y="646.10" width="3.00" height="3.00" fill="none" stroke="#3152ec" stroke-width="0.9" />
<rect x="199.40" y="646.10" width="3.00" height="3.00" fill="none" stroke="#3152ec" stroke-width="0.9" />
<path d="M202.50,648.70 L204.10,645.80 L205.70,648.70 Z" fill="none" stroke="#9a9a9a" stroke-width="0.8"/>
<text x="226.80" y="406.70" font-size="15" text-anchor="start" font-weight="bold" fill="#111" >e</text>
<rect x="317.20" y="434.30" width="24.70" height="24.68" fill="#fff0dc" stroke="none" stroke-width="1" shape-rendering="crispEdges"/>
<rect x="341.30" y="434.30" width="24.70" height="24.68" fill="#fffcfa" stroke="none" stroke-width="1" shape-rendering="crispEdges"/>
<rect x="365.40" y="434.30" width="24.70" height="24.68" fill="#fff6ea" stroke="none" stroke-width="1" shape-rendering="crispEdges"/>
<rect x="389.50" y="434.30" width="24.70" height="24.68" fill="#ffecce" stroke="none" stroke-width="1" shape-rendering="crispEdges"/>
<rect x="317.20" y="458.38" width="24.70" height="24.68" fill="#fffdf8" stroke="none" stroke-width="1" shape-rendering="crispEdges"/>
<rect x="341.30" y="458.38" width="24.70" height="24.68" fill="#d09ab6" stroke="none" stroke-width="1" shape-rendering="crispEdges"/>
<rect x="365.40" y="458.38" width="24.70" height="24.68" fill="#dcb3c7" stroke="none" stroke-width="1" shape-rendering="crispEdges"/>
<rect x="389.50" y="458.38" width="24.70" height="24.68" fill="#f0dfe7" stroke="none" stroke-width="1" shape-rendering="crispEdges"/>
<rect x="317.20" y="482.45" width="24.70" height="24.68" fill="#ffefd6" stroke="none" stroke-width="1" shape-rendering="crispEdges"/>
<rect x="341.30" y="482.45" width="24.70" height="24.68" fill="#fff2e0" stroke="none" stroke-width="1" shape-rendering="crispEdges"/>
<rect x="365.40" y="482.45" width="24.70" height="24.68" fill="#fff2e0" stroke="none" stroke-width="1" shape-rendering="crispEdges"/>
<rect x="389.50" y="482.45" width="24.70" height="24.68" fill="#fff6ea" stroke="none" stroke-width="1" shape-rendering="crispEdges"/>
<rect x="317.20" y="506.52" width="24.70" height="24.68" fill="#fff6ea" stroke="none" stroke-width="1" shape-rendering="crispEdges"/>
<rect x="341.30" y="506.52" width="24.70" height="24.68" fill="#f6e9f0" stroke="none" stroke-width="1" shape-rendering="crispEdges"/>
<rect x="365.40" y="506.52" width="24.70" height="24.68" fill="#faf6f8" stroke="none" stroke-width="1" shape-rendering="crispEdges"/>
<rect x="389.50" y="506.52" width="24.70" height="24.68" fill="#fff6ea" stroke="none" stroke-width="1" shape-rendering="crispEdges"/>
<rect x="317.20" y="530.60" width="24.70" height="24.68" fill="#fff6ea" stroke="none" stroke-width="1" shape-rendering="crispEdges"/>
<rect x="341.30" y="530.60" width="24.70" height="24.68" fill="#e6c3d4" stroke="none" stroke-width="1" shape-rendering="crispEdges"/>
<rect x="365.40" y="530.60" width="24.70" height="24.68" fill="#fff6ea" stroke="none" stroke-width="1" shape-rendering="crispEdges"/>
<rect x="389.50" y="530.60" width="24.70" height="24.68" fill="#d4a3bd" stroke="none" stroke-width="1" shape-rendering="crispEdges"/>
<rect x="317.20" y="554.67" width="24.70" height="24.68" fill="#e0b9cc" stroke="none" stroke-width="1" shape-rendering="crispEdges"/>
<rect x="341.30" y="554.67" width="24.70" height="24.68" fill="#a43f76" stroke="none" stroke-width="1" shape-rendering="crispEdges"/>
<rect x="365.40" y="554.67" width="24.70" height="24.68" fill="#d095b3" stroke="none" stroke-width="1" shape-rendering="crispEdges"/>
<rect x="389.50" y="554.67" width="24.70" height="24.68" fill="#a6437a" stroke="none" stroke-width="1" shape-rendering="crispEdges"/>
<rect x="317.20" y="578.75" width="24.70" height="24.68" fill="#d4a4bd" stroke="none" stroke-width="1" shape-rendering="crispEdges"/>
<rect x="341.30" y="578.75" width="24.70" height="24.68" fill="#ead0dd" stroke="none" stroke-width="1" shape-rendering="crispEdges"/>
<rect x="365.40" y="578.75" width="24.70" height="24.68" fill="#cb8fae" stroke="none" stroke-width="1" shape-rendering="crispEdges"/>
<rect x="389.50" y="578.75" width="24.70" height="24.68" fill="#ecd6e1" stroke="none" stroke-width="1" shape-rendering="crispEdges"/>
<rect x="317.20" y="602.83" width="24.70" height="24.68" fill="#d7a9c1" stroke="none" stroke-width="1" shape-rendering="crispEdges"/>
<rect x="341.30" y="602.83" width="24.70" height="24.68" fill="#d09db7" stroke="none" stroke-width="1" shape-rendering="crispEdges"/>
<rect x="365.40" y="602.83" width="24.70" height="24.68" fill="#d4a6bd" stroke="none" stroke-width="1" shape-rendering="crispEdges"/>
<rect x="389.50" y="602.83" width="24.70" height="24.68" fill="#d4a6bd" stroke="none" stroke-width="1" shape-rendering="crispEdges"/>
<rect x="317.20" y="434.30" width="96.40" height="192.60" fill="none" stroke="#333" stroke-width="1" />
<text x="353.35" y="571.31" font-size="10" text-anchor="middle" font-weight="bold" fill="#111" >*</text>
<text x="401.55" y="571.31" font-size="10" text-anchor="middle" font-weight="bold" fill="#111" >*</text>
<line x1="312.70" y1="446.34" x2="317.20" y2="446.34" stroke="#333" stroke-width="1" />
<text x="311.20" y="449.94" font-size="10.15" text-anchor="end" fill="#222" >IL-2 NSP7</text>
<line x1="312.70" y1="470.41" x2="317.20" y2="470.41" stroke="#333" stroke-width="1" />
<text x="311.20" y="474.01" font-size="10.15" text-anchor="end" fill="#222" >IL-2 NSP12</text>
<line x1="312.70" y1="494.49" x2="317.20" y2="494.49" stroke="#333" stroke-width="1" />
<text x="311.20" y="498.09" font-size="10.15" text-anchor="end" fill="#222" >IL-2 NSP13</text>
<line x1="312.70" y1="518.56" x2="317.20" y2="518.56" stroke="#333" stroke-width="1" />
<text x="311.20" y="522.16" font-size="10.15" text-anchor="end" fill="#222" >IL-2 (sum)</text>
<line x1="312.70" y1="542.64" x2="317.20" y2="542.64" stroke="#333" stroke-width="1" />
<text x="311.20" y="546.24" font-size="10.15" text-anchor="end" fill="#222" >IFN-γ NSP7</text>
<line x1="312.70" y1="566.71" x2="317.20" y2="566.71" stroke="#333" stroke-width="1" />
<text x="311.20" y="570.31" font-size="10.15" text-anchor="end" fill="#222" >IFN-γ NSP12</text>
<line x1="312.70" y1="590.79" x2="317.20" y2="590.79" stroke="#333" stroke-width="1" />
<text x="311.20" y="594.39" font-size="10.15" text-anchor="end" fill="#222" >IFN-γ NSP13</text>
<line x1="312.70" y1="614.86" x2="317.20" y2="614.86" stroke="#333" stroke-width="1" />
<text x="311.20" y="618.46" font-size="10.15" text-anchor="end" fill="#222" >IFN-γ (sum)</text>
<line x1="329.25" y1="626.90" x2="329.25" y2="631.90" stroke="#333" stroke-width="1" />
<text x="325.05" y="636.80" font-size="10" text-anchor="end" fill="#222" transform="rotate(-45 325.05 636.8)" dy="0.7em">229E</text>
<line x1="353.35" y1="626.90" x2="353.35" y2="631.90" stroke="#333" stroke-width="1" />
<text x="349.15" y="636.80" font-size="10" text-anchor="end" fill="#222" transform="rotate(-45 349.15 636.8)" dy="0.7em">HKU1</text>
<line x1="377.45" y1="626.90" x2="377.45" y2="631.90" stroke="#333" stroke-width="1" />
<text x="373.25" y="636.80" font-size="10" text-anchor="end" fill="#222" transform="rotate(-45 373.25 636.8)" dy="0.7em">NL63</text>
<line x1="401.55" y1="626.90" x2="401.55" y2="631.90" stroke="#333" stroke-width="1" />
<text x="397.35" y="636.80" font-size="10" text-anchor="end" fill="#222" transform="rotate(-45 397.35 636.8)" dy="0.7em">OC43</text>
<text x="362.50" y="672.70" font-size="10.2" text-anchor="middle" fill="#222" >Baseline hCoV anti-spike IgG</text>
<text x="242.5" y="532.4" font-size="10" text-anchor="middle" fill="#222" transform="rotate(-90 242.5 532.4)" dy="0.35em">SFU/million PBMC</text>
<defs><linearGradient id="spr" x1="0" y1="0" x2="0" y2="1"><stop offset="0" stop-color="#9b1b5b"/><stop offset="0.25" stop-color="#d49ab9"/><stop offset="0.5" stop-color="#fffdfa"/><stop offset="0.75" stop-color="#fde8b4"/><stop offset="1" stop-color="#fdd168"/></linearGradient></defs>
<rect x="429.40" y="434.30" width="17.20" height="192.60" fill="url(#spr)" stroke="#333" stroke-width="1" />
<text x="452.30" y="437.70" font-size="10.3" text-anchor="start" fill="#222" >1.0</text>
<line x1="429.40" y1="482.45" x2="432.60" y2="482.45" stroke="#333" stroke-width="1" />
<line x1="443.40" y1="482.45" x2="446.60" y2="482.45" stroke="#333" stroke-width="1" />
<text x="452.30" y="485.85" font-size="10.3" text-anchor="start" fill="#222" >0.5</text>
<line x1="429.40" y1="530.60" x2="432.60" y2="530.60" stroke="#333" stroke-width="1" />
<line x1="443.40" y1="530.60" x2="446.60" y2="530.60" stroke="#333" stroke-width="1" />
<text x="451.60" y="534.00" font-size="10.3" text-anchor="start" fill="#222" >0</text>
<line x1="429.40" y1="578.75" x2="432.60" y2="578.75" stroke="#333" stroke-width="1" />
<line x1="443.40" y1="578.75" x2="446.60" y2="578.75" stroke="#333" stroke-width="1" />
<text x="451.60" y="582.15" font-size="10.3" text-anchor="start" fill="#222" >-0.5</text>
<text x="451.60" y="630.30" font-size="10.3" text-anchor="start" fill="#222" >-1.0</text>
<text x="479.4" y="531.7" font-size="10" text-anchor="middle" fill="#222" transform="rotate(90 479.4 531.7)" dy="0.35em">Spearman r</text>
<rect x="561.10" y="406.50" width="105.40" height="105.90" fill="none" stroke="#333" stroke-width="1" />
<line x1="556.70" y1="512.40" x2="561.10" y2="512.40" stroke="#333" stroke-width="1" />
<text x="554.70" y="515.30" font-size="8.2" text-anchor="end" fill="#222" >0</text>
<line x1="556.70" y1="477.10" x2="561.10" y2="477.10" stroke="#333" stroke-width="1" />
<text x="554.70" y="480.00" font-size="8.2" text-anchor="end" fill="#222" >10</text>
<line x1="556.70" y1="441.80" x2="561.10" y2="441.80" stroke="#333" stroke-width="1" />
<text x="554.70" y="444.70" font-size="8.2" text-anchor="end" fill="#222" >20</text>
<line x1="556.70" y1="406.50" x2="561.10" y2="406.50" stroke="#333" stroke-width="1" />
<text x="554.70" y="409.40" font-size="8.2" text-anchor="end" fill="#222" >30</text>
<line x1="561.10" y1="512.40" x2="561.10" y2="516.60" stroke="#333" stroke-width="1" />
<text x="561.10" y="525.50" font-size="8.2" text-anchor="middle" fill="#222" >0.1</text>
<line x1="596.23" y1="512.40" x2="596.23" y2="516.60" stroke="#333" stroke-width="1" />
<text x="596.23" y="525.50" font-size="8.2" text-anchor="middle" fill="#222" >1</text>
<line x1="631.37" y1="512.40" x2="631.37" y2="516.60" stroke="#333" stroke-width="1" />
<text x="631.37" y="525.50" font-size="8.2" text-anchor="middle" fill="#222" >10</text>
<line x1="666.50" y1="512.40" x2="666.50" y2="516.60" stroke="#333" stroke-width="1" />
<text x="666.50" y="525.50" font-size="8.2" text-anchor="middle" fill="#222" >100</text>
<text x="613.10" y="538.20" font-size="8.3" text-anchor="middle" fill="#222" >IFN-γ SFU/million PBMC</text>
<text x="613.10" y="548.30" font-size="8.3" text-anchor="middle" fill="#222" >NSP12</text>
<circle cx="596.40" cy="466.50" r="1.85" fill="#f2361f" stroke="none" stroke-width="1" />
<circle cx="596.40" cy="477.20" r="1.85" fill="#f2361f" stroke="none" stroke-width="1" />
<circle cx="596.40" cy="488.50" r="1.85" fill="#f2361f" stroke="none" stroke-width="1" />
<circle cx="596.40" cy="503.20" r="1.85" fill="#f2361f" stroke="none" stroke-width="1" />
<circle cx="610.40" cy="465.90" r="1.85" fill="#f2361f" stroke="none" stroke-width="1" />
<circle cx="610.40" cy="472.20" r="1.85" fill="#f2361f" stroke="none" stroke-width="1" />
<circle cx="610.40" cy="481.20" r="1.85" fill="#f2361f" stroke="none" stroke-width="1" />
<circle cx="610.40" cy="495.90" r="1.85" fill="#f2361f" stroke="none" stroke-width="1" />
<circle cx="620.60" cy="454.60" r="1.85" fill="#f2361f" stroke="none" stroke-width="1" />
<circle cx="620.60" cy="461.70" r="1.85" fill="#f2361f" stroke="none" stroke-width="1" />
<circle cx="624.50" cy="465.70" r="1.85" fill="#f2361f" stroke="none" stroke-width="1" />
<circle cx="640.00" cy="465.70" r="1.85" fill="#f2361f" stroke="none" stroke-width="1" />
<circle cx="647.60" cy="420.80" r="1.85" fill="#f2361f" stroke="none" stroke-width="1" />
<text x="565.50" y="418.50" font-size="8.2" text-anchor="start" fill="#222" >r = 0.790</text>
<text x="565.50" y="428.80" font-size="8.2" text-anchor="start" fill="#222" >p = 0.002</text>
<text x="509.50" y="406.60" font-size="15" text-anchor="start" font-weight="bold" fill="#111" >f</text>
<text x="526.4" y="457.00" font-size="8.3" text-anchor="middle" fill="#222" transform="rotate(-90 526.4 457.00)" dy="0.35em" textLength="98.7" lengthAdjust="spacingAndGlyphs">CD38<tspan font-size="7.5" dy="-3.6">+</tspan><tspan dy="3.6"> </tspan>KI67<tspan font-size="7.5" dy="-3.6">+</tspan><tspan dy="3.6"> </tspan>(% of  CD8<tspan font-size="7.5" dy="-3.6">+</tspan><tspan dy="3.6"> </tspan>)</text>
<text x="537.8" y="457.00" font-size="8.3" text-anchor="middle" fill="#222" transform="rotate(-90 537.8 457.00)" dy="0.35em">(AUC)</text>
<rect x="561.10" y="561.60" width="105.40" height="105.90" fill="none" stroke="#333" stroke-width="1" />
<line x1="556.70" y1="667.50" x2="561.10" y2="667.50" stroke="#333" stroke-width="1" />
<text x="554.70" y="670.40" font-size="8.2" text-anchor="end" fill="#222" >10</text>
<line x1="556.70" y1="646.32" x2="561.10" y2="646.32" stroke="#333" stroke-width="1" />
<text x="554.70" y="649.22" font-size="8.2" text-anchor="end" fill="#222" >12</text>
<line x1="556.70" y1="625.14" x2="561.10" y2="625.14" stroke="#333" stroke-width="1" />
<text x="554.70" y="628.04" font-size="8.2" text-anchor="end" fill="#222" >14</text>
<line x1="556.70" y1="603.96" x2="561.10" y2="603.96" stroke="#333" stroke-width="1" />
<text x="554.70" y="606.86" font-size="8.2" text-anchor="end" fill="#222" >16</text>
<line x1="556.70" y1="582.78" x2="561.10" y2="582.78" stroke="#333" stroke-width="1" />
<text x="554.70" y="585.68" font-size="8.2" text-anchor="end" fill="#222" >18</text>
<line x1="556.70" y1="561.60" x2="561.10" y2="561.60" stroke="#333" stroke-width="1" />
<text x="554.70" y="564.50" font-size="8.2" text-anchor="end" fill="#222" >20</text>
<line x1="561.10" y1="667.50" x2="561.10" y2="671.70" stroke="#333" stroke-width="1" />
<text x="561.10" y="680.50" font-size="8.2" text-anchor="middle" fill="#222" >0.1</text>
<line x1="596.23" y1="667.50" x2="596.23" y2="671.70" stroke="#333" stroke-width="1" />
<text x="596.23" y="680.50" font-size="8.2" text-anchor="middle" fill="#222" >1</text>
<line x1="631.37" y1="667.50" x2="631.37" y2="671.70" stroke="#333" stroke-width="1" />
<text x="631.37" y="680.50" font-size="8.2" text-anchor="middle" fill="#222" >10</text>
<line x1="666.50" y1="667.50" x2="666.50" y2="671.70" stroke="#333" stroke-width="1" />
<text x="666.50" y="680.50" font-size="8.2" text-anchor="middle" fill="#222" >100</text>
<text x="613.10" y="693.20" font-size="8.3" text-anchor="middle" fill="#222" >IFN-γ SFU/million PBMC</text>
<text x="613.10" y="702.70" font-size="8.3" text-anchor="middle" fill="#222" >NSP12</text>
<circle cx="596.40" cy="582.80" r="1.85" fill="#f2361f" stroke="none" stroke-width="1" />
<circle cx="596.40" cy="588.10" r="1.85" fill="#f2361f" stroke="none" stroke-width="1" />
<circle cx="596.40" cy="603.90" r="1.85" fill="#f2361f" stroke="none" stroke-width="1" />
<circle cx="596.40" cy="614.40" r="1.85" fill="#f2361f" stroke="none" stroke-width="1" />
<circle cx="610.40" cy="603.90" r="1.85" fill="#f2361f" stroke="none" stroke-width="1" />
<circle cx="610.40" cy="609.10" r="1.85" fill="#f2361f" stroke="none" stroke-width="1" />
<circle cx="610.40" cy="614.40" r="1.85" fill="#f2361f" stroke="none" stroke-width="1" />
<circle cx="610.40" cy="645.90" r="1.85" fill="#f2361f" stroke="none" stroke-width="1" />
<circle cx="620.60" cy="609.10" r="1.85" fill="#f2361f" stroke="none" stroke-width="1" />
<circle cx="620.60" cy="624.90" r="1.85" fill="#f2361f" stroke="none" stroke-width="1" />
<circle cx="624.50" cy="645.90" r="1.85" fill="#f2361f" stroke="none" stroke-width="1" />
<circle cx="640.00" cy="656.40" r="1.85" fill="#f2361f" stroke="none" stroke-width="1" />
<circle cx="647.70" cy="640.60" r="1.85" fill="#f2361f" stroke="none" stroke-width="1" />
<text x="618.00" y="572.00" font-size="8.2" text-anchor="start" fill="#222" >r = -0.741</text>
<text x="618.00" y="582.30" font-size="8.2" text-anchor="start" fill="#222" >p = 0.005</text>
<text x="509.50" y="558.10" font-size="15" text-anchor="start" font-weight="bold" fill="#111" >g</text>
<text x="526.4" y="614.60" font-size="8.3" text-anchor="middle" fill="#222" transform="rotate(-90 526.4 614.60)" dy="0.35em" textLength="86.7" lengthAdjust="spacingAndGlyphs">Duration qPCR Positive</text>
<text x="537.8" y="614.60" font-size="8.3" text-anchor="middle" fill="#222" transform="rotate(-90 537.8 614.60)" dy="0.35em">(days)</text>
</svg></body></html>
